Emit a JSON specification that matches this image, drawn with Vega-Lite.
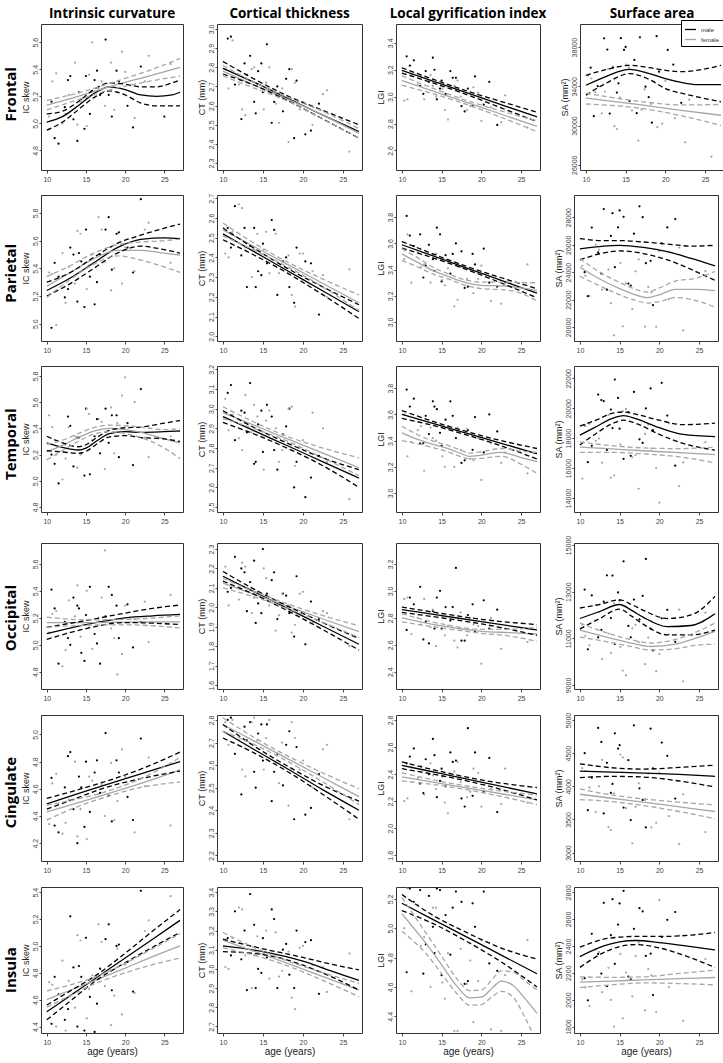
{
"$schema":"https://vega.github.io/schema/vega-lite/v6.json",
"background":"white",
"padding":{"left":3,"top":6,"right":1,"bottom":2},
"spacing":9,
"datasets":{
"F1p":[{"g":"m","x":10.6,"v":5.16},{"g":"m","x":11.5,"v":4.85},{"g":"m","x":12.3,"v":5.12},{"g":"m","x":13,"v":5.35},{"g":"m","x":13.4,"v":5.03},{"g":"m","x":13.9,"v":4.87},{"g":"m","x":14.4,"v":5.18},{"g":"m","x":15,"v":5.35},{"g":"m","x":15.5,"v":5.07},{"g":"m","x":16.1,"v":5.32},{"g":"m","x":16.8,"v":5.21},{"g":"m","x":17.5,"v":5.62},{"g":"m","x":18.3,"v":5.05},{"g":"m","x":19.2,"v":5.31},{"g":"m","x":20.3,"v":5.13},{"g":"m","x":22,"v":5.42},{"g":"m","x":25,"v":5.05},{"g":"f","x":10.3,"v":5.05},{"g":"f","x":11.2,"v":5.37},{"g":"f","x":12,"v":5.0},{"g":"f","x":12.8,"v":5.21},{"g":"f","x":13.6,"v":5.45},{"g":"f","x":14.3,"v":5.16},{"g":"f","x":15.1,"v":4.98},{"g":"f","x":15.8,"v":5.6},{"g":"f","x":16.6,"v":5.26},{"g":"f","x":17.4,"v":5.13},{"g":"f","x":18.2,"v":5.45},{"g":"f","x":19,"v":5.23},{"g":"f","x":20,"v":5.38},{"g":"f","x":21.2,"v":5.04},{"g":"f","x":23,"v":5.5},{"g":"f","x":25.8,"v":5.44},{"g":"m","x":11,"v":4.89},{"g":"m","x":12.7,"v":5.32},{"g":"m","x":14.1,"v":5.23},{"g":"m","x":14.8,"v":4.96},{"g":"m","x":16.4,"v":5.39},{"g":"m","x":17.9,"v":5.21},{"g":"m","x":18.9,"v":5.39},{"g":"m","x":21,"v":4.97},{"g":"f","x":10.7,"v":5.31},{"g":"f","x":12.4,"v":5.07},{"g":"f","x":13.9,"v":4.99},{"g":"f","x":15.4,"v":5.36},{"g":"f","x":17,"v":5.31},{"g":"f","x":18.6,"v":5.1},{"g":"f","x":19.6,"v":5.53},{"g":"f","x":22.5,"v":5.31}],
"F1f":[{"g":"m","x":10,"f":5.01,"l":4.95,"u":5.07},{"g":"m","x":12,"f":5.05,"l":5.01,"u":5.09},{"g":"m","x":14,"f":5.13,"l":5.1,"u":5.16},{"g":"m","x":16,"f":5.22,"l":5.19,"u":5.25},{"g":"m","x":18,"f":5.27,"l":5.24,"u":5.3},{"g":"m","x":20,"f":5.25,"l":5.21,"u":5.29},{"g":"m","x":22,"f":5.21,"l":5.15,"u":5.27},{"g":"m","x":24,"f":5.2,"l":5.13,"u":5.27},{"g":"m","x":26,"f":5.21,"l":5.13,"u":5.3},{"g":"m","x":27,"f":5.23,"l":5.13,"u":5.32},{"g":"f","x":10,"f":5.135,"l":5.1,"u":5.17},{"g":"f","x":14,"f":5.2,"l":5.175,"u":5.225},{"g":"f","x":18.5,"f":5.28,"l":5.255,"u":5.305},{"g":"f","x":23,"f":5.35,"l":5.31,"u":5.39},{"g":"f","x":27,"f":5.415,"l":5.35,"u":5.48}],
"F2p":[{"g":"m","x":10.6,"v":2.95},{"g":"m","x":11.5,"v":2.71},{"g":"m","x":12.3,"v":2.53},{"g":"m","x":13,"v":2.76},{"g":"m","x":13.4,"v":2.86},{"g":"m","x":13.9,"v":2.62},{"g":"m","x":14.4,"v":2.78},{"g":"m","x":15,"v":2.67},{"g":"m","x":15.5,"v":2.92},{"g":"m","x":16.1,"v":2.51},{"g":"m","x":16.8,"v":2.7},{"g":"m","x":17.5,"v":2.57},{"g":"m","x":18.3,"v":2.79},{"g":"m","x":19.2,"v":2.73},{"g":"m","x":20.3,"v":2.45},{"g":"m","x":22,"v":2.61},{"g":"f","x":10.3,"v":2.79},{"g":"f","x":11.2,"v":2.94},{"g":"f","x":12,"v":2.71},{"g":"f","x":12.8,"v":2.55},{"g":"f","x":13.6,"v":2.79},{"g":"f","x":14.3,"v":2.71},{"g":"f","x":15.1,"v":2.58},{"g":"f","x":15.8,"v":2.8},{"g":"f","x":16.6,"v":2.61},{"g":"f","x":17.4,"v":2.69},{"g":"f","x":18.2,"v":2.41},{"g":"f","x":19,"v":2.72},{"g":"f","x":20,"v":2.62},{"g":"f","x":21.2,"v":2.5},{"g":"f","x":23,"v":2.68},{"g":"f","x":25.8,"v":2.36},{"g":"m","x":11,"v":2.96},{"g":"m","x":12.7,"v":2.82},{"g":"m","x":14.1,"v":2.56},{"g":"m","x":14.8,"v":2.82},{"g":"m","x":16.4,"v":2.62},{"g":"m","x":17.9,"v":2.74},{"g":"m","x":18.9,"v":2.43},{"g":"m","x":21,"v":2.47},{"g":"f","x":10.7,"v":2.69},{"g":"f","x":12.4,"v":2.58},{"g":"f","x":13.9,"v":2.8},{"g":"f","x":15.4,"v":2.72},{"g":"f","x":17,"v":2.51},{"g":"f","x":18.6,"v":2.79},{"g":"f","x":19.6,"v":2.58},{"g":"f","x":22.5,"v":2.66}],
"F2f":[{"g":"m","x":10,"f":2.795,"l":2.765,"u":2.83},{"g":"m","x":14,"f":2.72,"l":2.705,"u":2.737},{"g":"m","x":18,"f":2.64,"l":2.628,"u":2.652},{"g":"m","x":22.5,"f":2.55,"l":2.53,"u":2.575},{"g":"m","x":27,"f":2.465,"l":2.43,"u":2.5},{"g":"f","x":10,"f":2.78,"l":2.755,"u":2.81},{"g":"f","x":14,"f":2.705,"l":2.69,"u":2.72},{"g":"f","x":18,"f":2.635,"l":2.625,"u":2.645},{"g":"f","x":22.5,"f":2.55,"l":2.53,"u":2.57},{"g":"f","x":27,"f":2.455,"l":2.43,"u":2.48}],
"F3p":[{"g":"m","x":10.6,"v":3.3},{"g":"m","x":11.5,"v":3.27},{"g":"m","x":12.3,"v":3.08},{"g":"m","x":13,"v":3.19},{"g":"m","x":13.4,"v":3.11},{"g":"m","x":13.9,"v":3.29},{"g":"m","x":14.4,"v":2.98},{"g":"m","x":15,"v":3.12},{"g":"m","x":15.5,"v":3.02},{"g":"m","x":16.1,"v":3.19},{"g":"m","x":16.8,"v":3.14},{"g":"m","x":17.5,"v":2.93},{"g":"m","x":18.3,"v":3.06},{"g":"m","x":19.2,"v":3.15},{"g":"m","x":20.3,"v":2.94},{"g":"m","x":22,"v":2.79},{"g":"f","x":10.3,"v":2.97},{"g":"f","x":11.2,"v":3.16},{"g":"f","x":12,"v":3.09},{"g":"f","x":12.8,"v":2.98},{"g":"f","x":13.6,"v":3.16},{"g":"f","x":14.3,"v":3.0},{"g":"f","x":15.1,"v":3.06},{"g":"f","x":15.8,"v":2.83},{"g":"f","x":16.6,"v":3.08},{"g":"f","x":17.4,"v":3.0},{"g":"f","x":18.2,"v":2.9},{"g":"f","x":19,"v":3.07},{"g":"f","x":20,"v":2.82},{"g":"f","x":21.2,"v":2.92},{"g":"f","x":23,"v":3.01},{"g":"f","x":25.8,"v":2.77},{"g":"m","x":11,"v":3.23},{"g":"m","x":12.7,"v":3.02},{"g":"m","x":14.1,"v":3.2},{"g":"m","x":14.8,"v":3.06},{"g":"m","x":16.4,"v":3.14},{"g":"m","x":17.9,"v":2.89},{"g":"m","x":18.9,"v":2.93},{"g":"m","x":21,"v":3.11},{"g":"f","x":10.7,"v":2.98},{"g":"f","x":12.4,"v":3.15},{"g":"f","x":13.9,"v":3.08},{"g":"f","x":15.4,"v":2.9},{"g":"f","x":17,"v":3.12},{"g":"f","x":18.6,"v":2.93},{"g":"f","x":19.6,"v":3.03},{"g":"f","x":22.5,"v":2.81}],
"F3f":[{"g":"m","x":10,"f":3.196,"l":3.175,"u":3.215},{"g":"m","x":14,"f":3.114,"l":3.1,"u":3.128},{"g":"m","x":18.5,"f":3.022,"l":3.008,"u":3.036},{"g":"m","x":23,"f":2.93,"l":2.905,"u":2.955},{"g":"m","x":27,"f":2.85,"l":2.815,"u":2.885},{"g":"f","x":10,"f":3.12,"l":3.085,"u":3.155},{"g":"f","x":14,"f":3.04,"l":3.02,"u":3.06},{"g":"f","x":18.5,"f":2.95,"l":2.935,"u":2.965},{"g":"f","x":23,"f":2.86,"l":2.835,"u":2.885},{"g":"f","x":27,"f":2.78,"l":2.74,"u":2.82}],
"F4p":[{"g":"m","x":10.6,"v":35910},{"g":"m","x":11.5,"v":34020},{"g":"m","x":12.3,"v":38900},{"g":"m","x":13,"v":31220},{"g":"m","x":13.4,"v":35930},{"g":"m","x":13.9,"v":33370},{"g":"m","x":14.4,"v":38920},{"g":"m","x":15,"v":38020},{"g":"m","x":15.5,"v":32500},{"g":"m","x":16.1,"v":36690},{"g":"m","x":16.8,"v":39000},{"g":"m","x":17.5,"v":33960},{"g":"m","x":18.3,"v":30290},{"g":"m","x":19.2,"v":35500},{"g":"m","x":20.3,"v":37720},{"g":"m","x":22,"v":32320},{"g":"f","x":10.3,"v":35100},{"g":"f","x":11.2,"v":33400},{"g":"f","x":12,"v":31240},{"g":"f","x":12.8,"v":35760},{"g":"f","x":13.6,"v":29930},{"g":"f","x":14.3,"v":32850},{"g":"f","x":15.1,"v":36210},{"g":"f","x":15.8,"v":31540},{"g":"f","x":16.6,"v":28470},{"g":"f","x":17.4,"v":33680},{"g":"f","x":18.2,"v":32210},{"g":"f","x":19,"v":29830},{"g":"f","x":20,"v":34560},{"g":"f","x":21.2,"v":30750},{"g":"f","x":23,"v":32640},{"g":"f","x":25.8,"v":26830},{"g":"m","x":11,"v":30960},{"g":"m","x":12.7,"v":37750},{"g":"m","x":14.1,"v":34310},{"g":"m","x":14.8,"v":37720},{"g":"m","x":16.4,"v":31260},{"g":"m","x":17.9,"v":32890},{"g":"m","x":18.9,"v":39120},{"g":"m","x":21,"v":36220},{"g":"f","x":10.7,"v":34800},{"g":"f","x":12.4,"v":33470},{"g":"f","x":13.9,"v":29640},{"g":"f","x":15.4,"v":35920},{"g":"f","x":17,"v":31615},{"g":"f","x":18.6,"v":34440},{"g":"f","x":19.6,"v":30195},{"g":"f","x":22.5,"v":28290}],
"F4f":[{"g":"m","x":10,"f":34114,"l":33100,"u":35128},{"g":"m","x":12.5,"f":35000,"l":34300,"u":35700},{"g":"m","x":15.5,"f":35736,"l":35300,"u":36142},{"g":"m","x":18,"f":35300,"l":34700,"u":35900},{"g":"m","x":20,"f":34790,"l":33776,"u":35635},{"g":"m","x":22,"f":34400,"l":33300,"u":35500},{"g":"m","x":24,"f":34180,"l":32930,"u":35635},{"g":"m","x":27,"f":34180,"l":32423,"u":36142},{"g":"f","x":10,"f":32800,"l":32200,"u":33300},{"g":"f","x":17,"f":32100,"l":31750,"u":32450},{"g":"f","x":22,"f":31550,"l":31000,"u":32100},{"g":"f","x":27,"f":31050,"l":30000,"u":32150}],
"P1p":[{"g":"m","x":10.6,"v":4.97},{"g":"m","x":11.5,"v":5.34},{"g":"m","x":12.3,"v":5.19},{"g":"m","x":13,"v":5.55},{"g":"m","x":13.4,"v":5.5},{"g":"m","x":13.9,"v":5.16},{"g":"m","x":14.4,"v":5.45},{"g":"m","x":15,"v":5.68},{"g":"m","x":15.5,"v":5.34},{"g":"m","x":16.1,"v":5.14},{"g":"m","x":16.8,"v":5.5},{"g":"m","x":17.5,"v":5.68},{"g":"m","x":18.3,"v":5.39},{"g":"m","x":19.2,"v":5.66},{"g":"m","x":20.3,"v":5.55},{"g":"m","x":22,"v":5.9},{"g":"f","x":10.3,"v":5.37},{"g":"f","x":11.2,"v":4.99},{"g":"f","x":12,"v":5.51},{"g":"f","x":12.8,"v":5.41},{"g":"f","x":13.6,"v":5.29},{"g":"f","x":14.3,"v":5.65},{"g":"f","x":15.1,"v":5.25},{"g":"f","x":15.8,"v":5.5},{"g":"f","x":16.6,"v":5.77},{"g":"f","x":17.4,"v":5.45},{"g":"f","x":18.2,"v":5.24},{"g":"f","x":19,"v":5.65},{"g":"f","x":20,"v":5.55},{"g":"f","x":21.2,"v":5.38},{"g":"f","x":23,"v":5.73},{"g":"f","x":25.8,"v":5.44},{"g":"m","x":11,"v":5.44},{"g":"m","x":12.7,"v":5.25},{"g":"m","x":14.1,"v":5.51},{"g":"m","x":14.8,"v":5.12},{"g":"m","x":16.4,"v":5.3},{"g":"m","x":17.9,"v":5.77},{"g":"m","x":18.9,"v":5.65},{"g":"m","x":21,"v":5.37},{"g":"f","x":10.7,"v":5.36},{"g":"f","x":12.4,"v":5.15},{"g":"f","x":13.9,"v":5.67},{"g":"f","x":15.4,"v":5.42},{"g":"f","x":17,"v":5.68},{"g":"f","x":18.6,"v":5.4},{"g":"f","x":19.6,"v":5.29},{"g":"f","x":22.5,"v":5.68}],
"P1f":[{"g":"m","x":10,"f":5.24,"l":5.2,"u":5.3},{"g":"m","x":13,"f":5.33,"l":5.29,"u":5.37},{"g":"m","x":16,"f":5.44,"l":5.4,"u":5.48},{"g":"m","x":19,"f":5.55,"l":5.51,"u":5.58},{"g":"m","x":22,"f":5.61,"l":5.56,"u":5.64},{"g":"m","x":25,"f":5.62,"l":5.535,"u":5.69},{"g":"m","x":27,"f":5.615,"l":5.51,"u":5.72},{"g":"f","x":10,"f":5.27,"l":5.19,"u":5.34},{"g":"f","x":13,"f":5.37,"l":5.32,"u":5.42},{"g":"f","x":16,"f":5.47,"l":5.43,"u":5.51},{"g":"f","x":19,"f":5.53,"l":5.49,"u":5.57},{"g":"f","x":22,"f":5.53,"l":5.46,"u":5.59},{"g":"f","x":25,"f":5.51,"l":5.41,"u":5.6},{"g":"f","x":27,"f":5.495,"l":5.37,"u":5.61}],
"P2p":[{"g":"m","x":10.6,"v":2.55},{"g":"m","x":11.5,"v":2.66},{"g":"m","x":12.3,"v":2.41},{"g":"m","x":13,"v":2.25},{"g":"m","x":13.4,"v":2.46},{"g":"m","x":13.9,"v":2.55},{"g":"m","x":14.4,"v":2.33},{"g":"m","x":15,"v":2.47},{"g":"m","x":15.5,"v":2.37},{"g":"m","x":16.1,"v":2.59},{"g":"m","x":16.8,"v":2.21},{"g":"m","x":17.5,"v":2.38},{"g":"m","x":18.3,"v":2.25},{"g":"m","x":19.2,"v":2.45},{"g":"m","x":20.3,"v":2.38},{"g":"m","x":22,"v":2.11},{"g":"f","x":10.3,"v":2.42},{"g":"f","x":11.2,"v":2.53},{"g":"f","x":12,"v":2.67},{"g":"f","x":12.8,"v":2.45},{"g":"f","x":13.6,"v":2.3},{"g":"f","x":14.3,"v":2.52},{"g":"f","x":15.1,"v":2.44},{"g":"f","x":15.8,"v":2.32},{"g":"f","x":16.6,"v":2.52},{"g":"f","x":17.4,"v":2.34},{"g":"f","x":18.2,"v":2.41},{"g":"f","x":19,"v":2.15},{"g":"f","x":20,"v":2.42},{"g":"f","x":21.2,"v":2.33},{"g":"f","x":23,"v":2.2},{"g":"f","x":25.8,"v":2.34},{"g":"m","x":11,"v":2.45},{"g":"m","x":12.7,"v":2.55},{"g":"m","x":14.1,"v":2.25},{"g":"m","x":14.8,"v":2.31},{"g":"m","x":16.4,"v":2.54},{"g":"m","x":17.9,"v":2.4},{"g":"m","x":18.9,"v":2.17},{"g":"m","x":21,"v":2.37},{"g":"f","x":10.7,"v":2.4},{"g":"f","x":12.4,"v":2.65},{"g":"f","x":13.9,"v":2.44},{"g":"f","x":15.4,"v":2.53},{"g":"f","x":17,"v":2.32},{"g":"f","x":18.6,"v":2.21},{"g":"f","x":19.6,"v":2.42},{"g":"f","x":22.5,"v":2.31}],
"P2f":[{"g":"m","x":10,"f":2.52,"l":2.49,"u":2.55},{"g":"m","x":14,"f":2.427,"l":2.41,"u":2.444},{"g":"m","x":18,"f":2.334,"l":2.322,"u":2.346},{"g":"m","x":22.5,"f":2.23,"l":2.21,"u":2.25},{"g":"m","x":27,"f":2.125,"l":2.09,"u":2.16},{"g":"f","x":10,"f":2.54,"l":2.51,"u":2.575},{"g":"f","x":14,"f":2.453,"l":2.435,"u":2.47},{"g":"f","x":18,"f":2.366,"l":2.354,"u":2.378},{"g":"f","x":22.5,"f":2.268,"l":2.25,"u":2.29},{"g":"f","x":27,"f":2.17,"l":2.13,"u":2.21}],
"P3p":[{"g":"m","x":10.6,"v":3.81},{"g":"m","x":11.5,"v":3.58},{"g":"m","x":12.3,"v":3.67},{"g":"m","x":13,"v":3.43},{"g":"m","x":13.4,"v":3.59},{"g":"m","x":13.9,"v":3.48},{"g":"m","x":14.4,"v":3.72},{"g":"m","x":15,"v":3.31},{"g":"m","x":15.5,"v":3.51},{"g":"m","x":16.1,"v":3.37},{"g":"m","x":16.8,"v":3.6},{"g":"m","x":17.5,"v":3.54},{"g":"m","x":18.3,"v":3.27},{"g":"m","x":19.2,"v":3.44},{"g":"m","x":20.3,"v":3.56},{"g":"m","x":22,"v":3.27},{"g":"f","x":10.3,"v":3.48},{"g":"f","x":11.2,"v":3.3},{"g":"f","x":12,"v":3.53},{"g":"f","x":12.8,"v":3.44},{"g":"f","x":13.6,"v":3.3},{"g":"f","x":14.3,"v":3.52},{"g":"f","x":15.1,"v":3.32},{"g":"f","x":15.8,"v":3.41},{"g":"f","x":16.6,"v":3.12},{"g":"f","x":17.4,"v":3.42},{"g":"f","x":18.2,"v":3.33},{"g":"f","x":19,"v":3.22},{"g":"f","x":20,"v":3.43},{"g":"f","x":21.2,"v":3.16},{"g":"f","x":23,"v":3.3},{"g":"f","x":25.8,"v":3.44},{"g":"m","x":11,"v":3.66},{"g":"m","x":12.7,"v":3.34},{"g":"m","x":14.1,"v":3.39},{"g":"m","x":14.8,"v":3.67},{"g":"m","x":16.4,"v":3.52},{"g":"m","x":17.9,"v":3.26},{"g":"m","x":18.9,"v":3.52},{"g":"m","x":21,"v":3.3},{"g":"f","x":10.7,"v":3.67},{"g":"f","x":12.4,"v":3.42},{"g":"f","x":13.9,"v":3.51},{"g":"f","x":15.4,"v":3.28},{"g":"f","x":17,"v":3.17},{"g":"f","x":18.6,"v":3.4},{"g":"f","x":19.6,"v":3.33},{"g":"f","x":22.5,"v":3.14}],
"P3f":[{"g":"m","x":10,"f":3.59,"l":3.565,"u":3.615},{"g":"m","x":14,"f":3.503,"l":3.488,"u":3.518},{"g":"m","x":18,"f":3.416,"l":3.404,"u":3.428},{"g":"m","x":22.5,"f":3.318,"l":3.298,"u":3.338},{"g":"m","x":27,"f":3.22,"l":3.185,"u":3.255},{"g":"f","x":10,"f":3.52,"l":3.47,"u":3.56},{"g":"f","x":12,"f":3.455,"l":3.42,"u":3.49},{"g":"f","x":14,"f":3.39,"l":3.365,"u":3.415},{"g":"f","x":16,"f":3.345,"l":3.325,"u":3.365},{"g":"f","x":17.5,"f":3.31,"l":3.29,"u":3.33},{"g":"f","x":20,"f":3.28,"l":3.255,"u":3.305},{"g":"f","x":23,"f":3.275,"l":3.245,"u":3.305},{"g":"f","x":25,"f":3.26,"l":3.22,"u":3.3},{"g":"f","x":27,"f":3.24,"l":3.16,"u":3.3}],
"P4p":[{"g":"m","x":10.6,"v":24000},{"g":"m","x":11.5,"v":27250},{"g":"m","x":12.3,"v":25440},{"g":"m","x":13,"v":28600},{"g":"m","x":13.4,"v":22720},{"g":"m","x":13.9,"v":26640},{"g":"m","x":14.4,"v":24360},{"g":"m","x":15,"v":28500},{"g":"m","x":15.5,"v":28030},{"g":"m","x":16.1,"v":23165},{"g":"m","x":16.8,"v":26805},{"g":"m","x":17.5,"v":28800},{"g":"m","x":18.3,"v":24650},{"g":"m","x":19.2,"v":21600},{"g":"m","x":20.3,"v":26100},{"g":"m","x":22,"v":27870},{"g":"f","x":10.3,"v":24460},{"g":"f","x":11.2,"v":22270},{"g":"f","x":12,"v":26010},{"g":"f","x":12.8,"v":22720},{"g":"f","x":13.6,"v":24180},{"g":"f","x":14.3,"v":19400},{"g":"f","x":15.1,"v":24670},{"g":"f","x":15.8,"v":23180},{"g":"f","x":16.6,"v":21300},{"g":"f","x":17.4,"v":24930},{"g":"f","x":18.2,"v":20030},{"g":"f","x":19,"v":22520},{"g":"f","x":20,"v":25530},{"g":"f","x":21.2,"v":22030},{"g":"f","x":23,"v":19750},{"g":"f","x":25.8,"v":24080},{"g":"m","x":11,"v":22250},{"g":"m","x":12.7,"v":23900},{"g":"m","x":14.1,"v":28300},{"g":"m","x":14.8,"v":27265},{"g":"m","x":16.4,"v":23020},{"g":"m","x":17.9,"v":28005},{"g":"m","x":18.9,"v":24830},{"g":"m","x":21,"v":27260},{"g":"f","x":10.7,"v":23740},{"g":"f","x":12.4,"v":25625},{"g":"f","x":13.9,"v":21750},{"g":"f","x":15.4,"v":20050},{"g":"f","x":17,"v":24060},{"g":"f","x":18.6,"v":22925},{"g":"f","x":19.6,"v":20015},{"g":"f","x":22.5,"v":25790}],
"P4f":[{"g":"m","x":10,"f":25700,"l":24900,"u":26450},{"g":"m","x":13,"f":25900,"l":25400,"u":26300},{"g":"m","x":15,"f":25950,"l":25550,"u":26300},{"g":"m","x":18,"f":25800,"l":25350,"u":26200},{"g":"m","x":21,"f":25500,"l":24900,"u":26050},{"g":"m","x":24,"f":25000,"l":24200,"u":25900},{"g":"m","x":27,"f":24450,"l":23400,"u":25950},{"g":"f","x":10,"f":24360,"l":23700,"u":25000},{"g":"f","x":12.5,"f":23500,"l":23000,"u":24000},{"g":"f","x":15,"f":22800,"l":22350,"u":23250},{"g":"f","x":17,"f":22350,"l":21950,"u":22750},{"g":"f","x":18.5,"f":22150,"l":21750,"u":22550},{"g":"f","x":20,"f":22350,"l":21850,"u":22850},{"g":"f","x":22,"f":22750,"l":22150,"u":23350},{"g":"f","x":24.5,"f":22750,"l":21950,"u":23550},{"g":"f","x":27,"f":22650,"l":21450,"u":24050}],
"T1p":[{"g":"m","x":10.6,"v":5.2},{"g":"m","x":11.5,"v":4.98},{"g":"m","x":12.3,"v":5.28},{"g":"m","x":13,"v":5.42},{"g":"m","x":13.4,"v":5.11},{"g":"m","x":13.9,"v":5.33},{"g":"m","x":14.4,"v":5.21},{"g":"m","x":15,"v":5.55},{"g":"m","x":15.5,"v":5.05},{"g":"m","x":16.1,"v":5.34},{"g":"m","x":16.8,"v":5.21},{"g":"m","x":17.5,"v":5.55},{"g":"m","x":18.3,"v":5.5},{"g":"m","x":19.2,"v":5.18},{"g":"m","x":20.3,"v":5.44},{"g":"m","x":22,"v":5.7},{"g":"f","x":10.3,"v":5.5},{"g":"f","x":11.2,"v":5.2},{"g":"f","x":12,"v":5.01},{"g":"f","x":12.8,"v":5.41},{"g":"f","x":13.6,"v":5.34},{"g":"f","x":14.3,"v":5.2},{"g":"f","x":15.1,"v":5.55},{"g":"f","x":15.8,"v":5.31},{"g":"f","x":16.6,"v":5.47},{"g":"f","x":17.4,"v":5.09},{"g":"f","x":18.2,"v":5.56},{"g":"f","x":19,"v":5.44},{"g":"f","x":20,"v":5.79},{"g":"f","x":21.2,"v":5.6},{"g":"f","x":23,"v":5.18},{"g":"f","x":25.8,"v":5.34},{"g":"m","x":11,"v":5.13},{"g":"m","x":12.7,"v":5.49},{"g":"m","x":14.1,"v":5.33},{"g":"m","x":14.8,"v":5.04},{"g":"m","x":16.4,"v":5.47},{"g":"m","x":17.9,"v":5.29},{"g":"m","x":18.9,"v":5.5},{"g":"m","x":21,"v":5.12},{"g":"f","x":10.7,"v":5.41},{"g":"f","x":12.4,"v":5.17},{"g":"f","x":13.9,"v":5.1},{"g":"f","x":15.4,"v":5.51},{"g":"f","x":17,"v":5.45},{"g":"f","x":18.6,"v":5.21},{"g":"f","x":19.6,"v":5.65},{"g":"f","x":22.5,"v":5.33}],
"T1f":[{"g":"m","x":10,"f":5.29,"l":5.23,"u":5.34},{"g":"m","x":12,"f":5.255,"l":5.22,"u":5.29},{"g":"m","x":14,"f":5.235,"l":5.21,"u":5.26},{"g":"m","x":15,"f":5.25,"l":5.225,"u":5.275},{"g":"m","x":16.5,"f":5.31,"l":5.285,"u":5.335},{"g":"m","x":18,"f":5.36,"l":5.335,"u":5.385},{"g":"m","x":20,"f":5.375,"l":5.345,"u":5.405},{"g":"m","x":22,"f":5.37,"l":5.33,"u":5.41},{"g":"m","x":25,"f":5.375,"l":5.32,"u":5.44},{"g":"m","x":27,"f":5.38,"l":5.3,"u":5.46},{"g":"f","x":10,"f":5.22,"l":5.16,"u":5.28},{"g":"f","x":12,"f":5.27,"l":5.23,"u":5.31},{"g":"f","x":14,"f":5.33,"l":5.3,"u":5.36},{"g":"f","x":16,"f":5.38,"l":5.355,"u":5.405},{"g":"f","x":18,"f":5.4,"l":5.375,"u":5.425},{"g":"f","x":20,"f":5.39,"l":5.36,"u":5.42},{"g":"f","x":22,"f":5.37,"l":5.33,"u":5.41},{"g":"f","x":25,"f":5.32,"l":5.25,"u":5.39},{"g":"f","x":27,"f":5.29,"l":5.17,"u":5.4}],
"T2p":[{"g":"m","x":10.6,"v":3.08},{"g":"m","x":11.5,"v":2.84},{"g":"m","x":12.3,"v":2.99},{"g":"m","x":13,"v":2.88},{"g":"m","x":13.4,"v":3.13},{"g":"m","x":13.9,"v":2.72},{"g":"m","x":14.4,"v":2.92},{"g":"m","x":15,"v":2.78},{"g":"m","x":15.5,"v":3.02},{"g":"m","x":16.1,"v":2.96},{"g":"m","x":16.8,"v":2.69},{"g":"m","x":17.5,"v":2.87},{"g":"m","x":18.3,"v":3.0},{"g":"m","x":19.2,"v":2.73},{"g":"m","x":20.3,"v":2.55},{"g":"m","x":22,"v":2.76},{"g":"f","x":10.3,"v":3.05},{"g":"f","x":11.2,"v":2.97},{"g":"f","x":12,"v":2.85},{"g":"f","x":12.8,"v":3.07},{"g":"f","x":13.6,"v":2.88},{"g":"f","x":14.3,"v":2.96},{"g":"f","x":15.1,"v":2.69},{"g":"f","x":15.8,"v":2.99},{"g":"f","x":16.6,"v":2.9},{"g":"f","x":17.4,"v":2.79},{"g":"f","x":18.2,"v":3.0},{"g":"f","x":19,"v":2.71},{"g":"f","x":20,"v":2.84},{"g":"f","x":21.2,"v":2.98},{"g":"f","x":23,"v":2.73},{"g":"f","x":25.8,"v":2.54},{"g":"m","x":11,"v":3.12},{"g":"m","x":12.7,"v":2.98},{"g":"m","x":14.1,"v":2.73},{"g":"m","x":14.8,"v":2.99},{"g":"m","x":16.4,"v":2.79},{"g":"m","x":17.9,"v":2.91},{"g":"m","x":18.9,"v":2.6},{"g":"m","x":21,"v":2.65},{"g":"f","x":10.7,"v":2.89},{"g":"f","x":12.4,"v":2.79},{"g":"f","x":13.9,"v":3.02},{"g":"f","x":15.4,"v":2.94},{"g":"f","x":17,"v":2.73},{"g":"f","x":18.6,"v":3.01},{"g":"f","x":19.6,"v":2.8},{"g":"f","x":22.5,"v":2.9}],
"T2f":[{"g":"m","x":10,"f":2.96,"l":2.93,"u":2.99},{"g":"m","x":14,"f":2.886,"l":2.87,"u":2.902},{"g":"m","x":18,"f":2.813,"l":2.8,"u":2.826},{"g":"m","x":22.5,"f":2.73,"l":2.71,"u":2.75},{"g":"m","x":27,"f":2.647,"l":2.6,"u":2.69},{"g":"f","x":10,"f":2.98,"l":2.95,"u":3.01},{"g":"f","x":14,"f":2.914,"l":2.898,"u":2.93},{"g":"f","x":18,"f":2.848,"l":2.836,"u":2.86},{"g":"f","x":22.5,"f":2.774,"l":2.75,"u":2.8},{"g":"f","x":27,"f":2.7,"l":2.66,"u":2.75}],
"T3p":[{"g":"m","x":10.6,"v":3.79},{"g":"m","x":11.5,"v":3.72},{"g":"m","x":12.3,"v":3.38},{"g":"m","x":13,"v":3.59},{"g":"m","x":13.4,"v":3.45},{"g":"m","x":13.9,"v":3.7},{"g":"m","x":14.4,"v":3.64},{"g":"m","x":15,"v":3.36},{"g":"m","x":15.5,"v":3.56},{"g":"m","x":16.1,"v":3.7},{"g":"m","x":16.8,"v":3.42},{"g":"m","x":17.5,"v":3.23},{"g":"m","x":18.3,"v":3.48},{"g":"m","x":19.2,"v":3.58},{"g":"m","x":20.3,"v":3.31},{"g":"m","x":22,"v":3.47},{"g":"f","x":10.3,"v":3.6},{"g":"f","x":11.2,"v":3.39},{"g":"f","x":12,"v":3.48},{"g":"f","x":12.8,"v":3.17},{"g":"f","x":13.6,"v":3.5},{"g":"f","x":14.3,"v":3.4},{"g":"f","x":15.1,"v":3.28},{"g":"f","x":15.8,"v":3.51},{"g":"f","x":16.6,"v":3.2},{"g":"f","x":17.4,"v":3.33},{"g":"f","x":18.2,"v":3.49},{"g":"f","x":19,"v":3.25},{"g":"f","x":20,"v":3.1},{"g":"f","x":21.2,"v":3.38},{"g":"f","x":23,"v":3.31},{"g":"f","x":25.8,"v":3.15},{"g":"m","x":11,"v":3.66},{"g":"m","x":12.7,"v":3.38},{"g":"m","x":14.1,"v":3.66},{"g":"m","x":14.8,"v":3.46},{"g":"m","x":16.4,"v":3.59},{"g":"m","x":17.9,"v":3.25},{"g":"m","x":18.9,"v":3.33},{"g":"m","x":21,"v":3.6},{"g":"f","x":10.7,"v":3.28},{"g":"f","x":12.4,"v":3.51},{"g":"f","x":13.9,"v":3.42},{"g":"f","x":15.4,"v":3.2},{"g":"f","x":17,"v":3.5},{"g":"f","x":18.6,"v":3.26},{"g":"f","x":19.6,"v":3.42},{"g":"f","x":22.5,"v":3.23}],
"T3f":[{"g":"m","x":10,"f":3.6,"l":3.57,"u":3.63},{"g":"m","x":14,"f":3.53,"l":3.515,"u":3.545},{"g":"m","x":18,"f":3.459,"l":3.446,"u":3.472},{"g":"m","x":22.5,"f":3.38,"l":3.36,"u":3.4},{"g":"m","x":27,"f":3.3,"l":3.26,"u":3.34},{"g":"f","x":10,"f":3.46,"l":3.4,"u":3.51},{"g":"f","x":12,"f":3.41,"l":3.375,"u":3.445},{"g":"f","x":14,"f":3.37,"l":3.345,"u":3.395},{"g":"f","x":16,"f":3.335,"l":3.31,"u":3.36},{"g":"f","x":17.5,"f":3.3,"l":3.275,"u":3.325},{"g":"f","x":18.5,"f":3.28,"l":3.26,"u":3.305},{"g":"f","x":20,"f":3.29,"l":3.265,"u":3.315},{"g":"f","x":22.5,"f":3.31,"l":3.28,"u":3.34},{"g":"f","x":25,"f":3.27,"l":3.22,"u":3.32},{"g":"f","x":27,"f":3.24,"l":3.15,"u":3.31}],
"T4p":[{"g":"m","x":10.6,"v":18850},{"g":"m","x":11.5,"v":17490},{"g":"m","x":12.3,"v":20910},{"g":"m","x":13,"v":20470},{"g":"m","x":13.4,"v":17215},{"g":"m","x":13.9,"v":19910},{"g":"m","x":14.4,"v":21920},{"g":"m","x":15,"v":18635},{"g":"m","x":15.5,"v":16620},{"g":"m","x":16.1,"v":19740},{"g":"m","x":16.8,"v":21090},{"g":"m","x":17.5,"v":17920},{"g":"m","x":18.3,"v":19990},{"g":"m","x":19.2,"v":18540},{"g":"m","x":20.3,"v":21700},{"g":"m","x":22,"v":16160},{"g":"f","x":10.3,"v":15300},{"g":"f","x":11.2,"v":18965},{"g":"f","x":12,"v":17820},{"g":"f","x":12.8,"v":16360},{"g":"f","x":13.6,"v":19535},{"g":"f","x":14.3,"v":15515},{"g":"f","x":15.1,"v":17570},{"g":"f","x":15.8,"v":19950},{"g":"f","x":16.6,"v":16725},{"g":"f","x":17.4,"v":14620},{"g":"f","x":18.2,"v":18280},{"g":"f","x":19,"v":17295},{"g":"f","x":20,"v":13700},{"g":"f","x":21.2,"v":18990},{"g":"f","x":23,"v":16380},{"g":"f","x":25.8,"v":17735},{"g":"m","x":11,"v":16395},{"g":"m","x":12.7,"v":20545},{"g":"m","x":14.1,"v":18675},{"g":"m","x":14.8,"v":20690},{"g":"m","x":16.4,"v":16820},{"g":"m","x":17.9,"v":17680},{"g":"m","x":18.9,"v":21320},{"g":"m","x":21,"v":19510},{"g":"f","x":10.7,"v":18820},{"g":"f","x":12.4,"v":17970},{"g":"f","x":13.9,"v":15365},{"g":"f","x":15.4,"v":19800},{"g":"f","x":17,"v":16875},{"g":"f","x":18.6,"v":18910},{"g":"f","x":19.6,"v":16000},{"g":"f","x":22.5,"v":14790}],
"T4f":[{"g":"m","x":10,"f":18200,"l":17550,"u":18800},{"g":"m","x":12,"f":18750,"l":18300,"u":19200},{"g":"m","x":14,"f":19300,"l":18950,"u":19650},{"g":"m","x":15.5,"f":19500,"l":19200,"u":19750},{"g":"m","x":17,"f":19300,"l":19000,"u":19600},{"g":"m","x":20,"f":18700,"l":18250,"u":19200},{"g":"m","x":23,"f":18250,"l":17650,"u":18900},{"g":"m","x":27,"f":18100,"l":17200,"u":19000},{"g":"f","x":10,"f":17400,"l":17050,"u":17750},{"g":"f","x":14,"f":17280,"l":17050,"u":17500},{"g":"f","x":18,"f":17160,"l":16950,"u":17350},{"g":"f","x":22.5,"f":17030,"l":16750,"u":17300},{"g":"f","x":27,"f":16900,"l":16350,"u":17400}],
"O1p":[{"g":"m","x":10.6,"v":5.41},{"g":"m","x":11.5,"v":4.86},{"g":"m","x":12.3,"v":5.17},{"g":"m","x":13,"v":5.0},{"g":"m","x":13.4,"v":5.35},{"g":"m","x":13.9,"v":5.29},{"g":"m","x":14.4,"v":4.94},{"g":"m","x":15,"v":5.22},{"g":"m","x":15.5,"v":5.43},{"g":"m","x":16.1,"v":5.08},{"g":"m","x":16.8,"v":4.86},{"g":"m","x":17.5,"v":5.21},{"g":"m","x":18.3,"v":5.37},{"g":"m","x":19.2,"v":5.05},{"g":"m","x":20.3,"v":5.3},{"g":"m","x":22,"v":5.17},{"g":"f","x":10.3,"v":5.09},{"g":"f","x":11.2,"v":5.25},{"g":"f","x":12,"v":4.84},{"g":"f","x":12.8,"v":5.33},{"g":"f","x":13.6,"v":5.21},{"g":"f","x":14.3,"v":5.06},{"g":"f","x":15.1,"v":5.4},{"g":"f","x":15.8,"v":4.97},{"g":"f","x":16.6,"v":5.2},{"g":"f","x":17.4,"v":5.7},{"g":"f","x":18.2,"v":5.12},{"g":"f","x":19,"v":4.78},{"g":"f","x":20,"v":5.29},{"g":"f","x":21.2,"v":5.19},{"g":"f","x":23,"v":5.02},{"g":"f","x":25.8,"v":5.37},{"g":"m","x":11,"v":5.27},{"g":"m","x":12.7,"v":5.05},{"g":"m","x":14.1,"v":5.27},{"g":"m","x":14.8,"v":4.88},{"g":"m","x":16.4,"v":5.01},{"g":"m","x":17.9,"v":5.43},{"g":"m","x":18.9,"v":5.29},{"g":"m","x":21,"v":4.98},{"g":"f","x":10.7,"v":5.23},{"g":"f","x":12.4,"v":4.96},{"g":"f","x":13.9,"v":5.44},{"g":"f","x":15.4,"v":5.13},{"g":"f","x":17,"v":5.35},{"g":"f","x":18.6,"v":5.05},{"g":"f","x":19.6,"v":4.93},{"g":"f","x":22.5,"v":5.32}],
"O1f":[{"g":"m","x":10,"f":5.083,"l":5.04,"u":5.13},{"g":"m","x":15,"f":5.15,"l":5.12,"u":5.18},{"g":"m","x":20,"f":5.2,"l":5.165,"u":5.235},{"g":"m","x":23.5,"f":5.215,"l":5.16,"u":5.27},{"g":"m","x":27,"f":5.225,"l":5.15,"u":5.295},{"g":"f","x":10,"f":5.165,"l":5.13,"u":5.205},{"g":"f","x":15,"f":5.165,"l":5.145,"u":5.185},{"g":"f","x":20,"f":5.168,"l":5.148,"u":5.188},{"g":"f","x":27,"f":5.17,"l":5.125,"u":5.215}],
"O2p":[{"g":"m","x":10.6,"v":2.08},{"g":"m","x":11.5,"v":2.26},{"g":"m","x":12.3,"v":2.2},{"g":"m","x":13,"v":1.98},{"g":"m","x":13.4,"v":2.13},{"g":"m","x":13.9,"v":2.24},{"g":"m","x":14.4,"v":2.02},{"g":"m","x":15,"v":2.3},{"g":"m","x":15.5,"v":2.07},{"g":"m","x":16.1,"v":2.14},{"g":"m","x":16.8,"v":1.94},{"g":"m","x":17.5,"v":2.07},{"g":"m","x":18.3,"v":1.97},{"g":"m","x":19.2,"v":2.16},{"g":"m","x":20.3,"v":1.81},{"g":"m","x":22,"v":1.94},{"g":"f","x":10.3,"v":2.21},{"g":"f","x":11.2,"v":2.13},{"g":"f","x":12,"v":2.04},{"g":"f","x":12.8,"v":2.21},{"g":"f","x":13.6,"v":1.97},{"g":"f","x":14.3,"v":2.08},{"g":"f","x":15.1,"v":2.2},{"g":"f","x":15.8,"v":2.01},{"g":"f","x":16.6,"v":1.88},{"g":"f","x":17.4,"v":2.07},{"g":"f","x":18.2,"v":2.01},{"g":"f","x":19,"v":1.91},{"g":"f","x":20,"v":2.08},{"g":"f","x":21.2,"v":1.92},{"g":"f","x":23,"v":1.97},{"g":"f","x":25.8,"v":1.8},{"g":"m","x":11,"v":2.1},{"g":"m","x":12.7,"v":2.18},{"g":"m","x":14.1,"v":1.92},{"g":"m","x":14.8,"v":1.97},{"g":"m","x":16.4,"v":2.18},{"g":"m","x":17.9,"v":2.06},{"g":"m","x":18.9,"v":1.85},{"g":"m","x":21,"v":2.03},{"g":"f","x":10.7,"v":2.01},{"g":"f","x":12.4,"v":2.23},{"g":"f","x":13.9,"v":2.05},{"g":"f","x":15.4,"v":2.15},{"g":"f","x":17,"v":1.96},{"g":"f","x":18.6,"v":1.87},{"g":"f","x":19.6,"v":2.07},{"g":"f","x":22.5,"v":1.98}],
"O2f":[{"g":"m","x":10,"f":2.16,"l":2.135,"u":2.185},{"g":"m","x":14,"f":2.078,"l":2.065,"u":2.091},{"g":"m","x":18,"f":1.996,"l":1.984,"u":2.008},{"g":"m","x":22.5,"f":1.903,"l":1.885,"u":1.921},{"g":"m","x":27,"f":1.81,"l":1.78,"u":1.84},{"g":"f","x":10,"f":2.125,"l":2.1,"u":2.15},{"g":"f","x":14,"f":2.066,"l":2.053,"u":2.079},{"g":"f","x":18,"f":2.007,"l":1.995,"u":2.019},{"g":"f","x":22.5,"f":1.94,"l":1.922,"u":1.958},{"g":"f","x":27,"f":1.875,"l":1.845,"u":1.905}],
"O3p":[{"g":"m","x":10.6,"v":2.71},{"g":"m","x":11.5,"v":2.9},{"g":"m","x":12.3,"v":3.03},{"g":"m","x":13,"v":2.77},{"g":"m","x":13.4,"v":2.61},{"g":"m","x":13.9,"v":2.85},{"g":"m","x":14.4,"v":2.95},{"g":"m","x":15,"v":2.72},{"g":"m","x":15.5,"v":2.88},{"g":"m","x":16.1,"v":2.78},{"g":"m","x":16.8,"v":3.17},{"g":"m","x":17.5,"v":2.63},{"g":"m","x":18.3,"v":2.82},{"g":"m","x":19.2,"v":2.7},{"g":"m","x":20.3,"v":2.93},{"g":"m","x":22,"v":2.86},{"g":"f","x":10.3,"v":2.94},{"g":"f","x":11.2,"v":2.68},{"g":"f","x":12,"v":2.8},{"g":"f","x":12.8,"v":2.94},{"g":"f","x":13.6,"v":2.73},{"g":"f","x":14.3,"v":2.59},{"g":"f","x":15.1,"v":2.81},{"g":"f","x":15.8,"v":2.74},{"g":"f","x":16.6,"v":2.63},{"g":"f","x":17.4,"v":2.84},{"g":"f","x":18.2,"v":2.67},{"g":"f","x":19,"v":2.75},{"g":"f","x":20,"v":2.46},{"g":"f","x":21.2,"v":2.8},{"g":"f","x":23,"v":2.72},{"g":"f","x":25.8,"v":2.62},{"g":"m","x":11,"v":2.95},{"g":"m","x":12.7,"v":2.64},{"g":"m","x":14.1,"v":2.72},{"g":"m","x":14.8,"v":3.0},{"g":"m","x":16.4,"v":2.88},{"g":"m","x":17.9,"v":2.63},{"g":"m","x":18.9,"v":2.9},{"g":"m","x":21,"v":2.72},{"g":"f","x":10.7,"v":2.95},{"g":"f","x":12.4,"v":2.75},{"g":"f","x":13.9,"v":2.86},{"g":"f","x":15.4,"v":2.67},{"g":"f","x":17,"v":2.58},{"g":"f","x":18.6,"v":2.8},{"g":"f","x":19.6,"v":2.74},{"g":"f","x":22.5,"v":2.57}],
"O3f":[{"g":"m","x":10,"f":2.86,"l":2.84,"u":2.88},{"g":"m","x":15,"f":2.816,"l":2.8,"u":2.832},{"g":"m","x":20,"f":2.772,"l":2.755,"u":2.789},{"g":"m","x":27,"f":2.71,"l":2.67,"u":2.75},{"g":"f","x":10,"f":2.8,"l":2.77,"u":2.83},{"g":"f","x":15,"f":2.74,"l":2.725,"u":2.755},{"g":"f","x":20,"f":2.7,"l":2.685,"u":2.715},{"g":"f","x":23.5,"f":2.69,"l":2.665,"u":2.715},{"g":"f","x":27,"f":2.68,"l":2.625,"u":2.73}],
"O4p":[{"g":"m","x":10.6,"v":13090},{"g":"m","x":11.5,"v":12840},{"g":"m","x":12.3,"v":11045},{"g":"m","x":13,"v":12570},{"g":"m","x":13.4,"v":13700},{"g":"m","x":13.9,"v":11870},{"g":"m","x":14.4,"v":10760},{"g":"m","x":15,"v":12630},{"g":"m","x":15.5,"v":14300},{"g":"m","x":16.1,"v":11530},{"g":"m","x":16.8,"v":12660},{"g":"m","x":17.5,"v":11810},{"g":"m","x":18.3,"v":14400},{"g":"m","x":19.2,"v":10480},{"g":"m","x":20.3,"v":11860},{"g":"m","x":22,"v":10850},{"g":"f","x":10.3,"v":11590},{"g":"f","x":11.2,"v":10700},{"g":"f","x":12,"v":12430},{"g":"f","x":12.8,"v":10110},{"g":"f","x":13.6,"v":11205},{"g":"f","x":14.3,"v":12495},{"g":"f","x":15.1,"v":10625},{"g":"f","x":15.8,"v":9410},{"g":"f","x":16.6,"v":11430},{"g":"f","x":17.4,"v":10840},{"g":"f","x":18.2,"v":9890},{"g":"f","x":19,"v":11730},{"g":"f","x":20,"v":10325},{"g":"f","x":21.2,"v":11170},{"g":"f","x":23,"v":9160},{"g":"f","x":25.8,"v":12100},{"g":"m","x":11,"v":10530},{"g":"m","x":12.7,"v":11365},{"g":"m","x":14.1,"v":13690},{"g":"m","x":14.8,"v":12965},{"g":"m","x":16.4,"v":11045},{"g":"m","x":17.9,"v":12820},{"g":"m","x":18.9,"v":11420},{"g":"m","x":21,"v":12220},{"g":"f","x":10.7,"v":11110},{"g":"f","x":12.4,"v":12125},{"g":"f","x":13.9,"v":10375},{"g":"f","x":15.4,"v":9620},{"g":"f","x":17,"v":11580},{"g":"f","x":18.6,"v":11035},{"g":"f","x":19.6,"v":9590},{"g":"f","x":22.5,"v":12230}],
"O4f":[{"g":"m","x":10,"f":11850,"l":11400,"u":12300},{"g":"m","x":12.5,"f":12150,"l":11850,"u":12450},{"g":"m","x":15,"f":12450,"l":12250,"u":12650},{"g":"m","x":16.5,"f":12200,"l":11950,"u":12450},{"g":"m","x":18,"f":11900,"l":11600,"u":12200},{"g":"m","x":21,"f":11500,"l":11150,"u":11850},{"g":"m","x":24,"f":11550,"l":11150,"u":12000},{"g":"m","x":27,"f":12050,"l":11350,"u":12800},{"g":"f","x":10,"f":11350,"l":11050,"u":11650},{"g":"f","x":13,"f":11080,"l":10880,"u":11280},{"g":"f","x":16,"f":10830,"l":10680,"u":10980},{"g":"f","x":19,"f":10650,"l":10500,"u":10800},{"g":"f","x":22,"f":10750,"l":10550,"u":10950},{"g":"f","x":24.5,"f":11000,"l":10700,"u":11250},{"g":"f","x":27,"f":11300,"l":10750,"u":11650}],
"C1p":[{"g":"m","x":10.6,"v":4.68},{"g":"m","x":11.5,"v":4.28},{"g":"m","x":12.3,"v":4.61},{"g":"m","x":13,"v":4.87},{"g":"m","x":13.4,"v":4.45},{"g":"m","x":13.9,"v":4.2},{"g":"m","x":14.4,"v":4.61},{"g":"m","x":15,"v":4.8},{"g":"m","x":15.5,"v":4.43},{"g":"m","x":16.1,"v":4.72},{"g":"m","x":16.8,"v":4.57},{"g":"m","x":17.5,"v":5.01},{"g":"m","x":18.3,"v":4.36},{"g":"m","x":19.2,"v":4.72},{"g":"m","x":20.3,"v":4.54},{"g":"m","x":22,"v":4.97},{"g":"f","x":10.3,"v":4.34},{"g":"f","x":11.2,"v":4.71},{"g":"f","x":12,"v":4.27},{"g":"f","x":12.8,"v":4.52},{"g":"f","x":13.6,"v":4.8},{"g":"f","x":14.3,"v":4.45},{"g":"f","x":15.1,"v":4.23},{"g":"f","x":15.8,"v":4.66},{"g":"f","x":16.6,"v":4.56},{"g":"f","x":17.4,"v":4.4},{"g":"f","x":18.2,"v":4.79},{"g":"f","x":19,"v":4.51},{"g":"f","x":20,"v":4.69},{"g":"f","x":21.2,"v":4.28},{"g":"f","x":23,"v":4.83},{"g":"f","x":25.8,"v":4.33},{"g":"m","x":11,"v":4.33},{"g":"m","x":12.7,"v":4.84},{"g":"m","x":14.1,"v":4.69},{"g":"m","x":14.8,"v":4.32},{"g":"m","x":16.4,"v":4.81},{"g":"m","x":17.9,"v":4.55},{"g":"m","x":18.9,"v":4.81},{"g":"m","x":21,"v":4.37},{"g":"f","x":10.7,"v":4.64},{"g":"f","x":12.4,"v":4.35},{"g":"f","x":13.9,"v":4.25},{"g":"f","x":15.4,"v":4.69},{"g":"f","x":17,"v":4.63},{"g":"f","x":18.6,"v":4.37},{"g":"f","x":19.6,"v":4.89},{"g":"f","x":22.5,"v":4.62}],
"C1f":[{"g":"m","x":10,"f":4.49,"l":4.45,"u":4.53},{"g":"m","x":13.5,"f":4.555,"l":4.525,"u":4.585},{"g":"m","x":17,"f":4.62,"l":4.6,"u":4.645},{"g":"m","x":22,"f":4.71,"l":4.675,"u":4.745},{"g":"m","x":27,"f":4.8,"l":4.73,"u":4.87},{"g":"f","x":10,"f":4.43,"l":4.37,"u":4.48},{"g":"f","x":13.5,"f":4.49,"l":4.46,"u":4.52},{"g":"f","x":17,"f":4.55,"l":4.53,"u":4.57},{"g":"f","x":22,"f":4.64,"l":4.61,"u":4.675},{"g":"f","x":27,"f":4.74,"l":4.65,"u":4.83}],
"C2p":[{"g":"m","x":10.6,"v":2.8},{"g":"m","x":11.5,"v":2.65},{"g":"m","x":12.3,"v":2.47},{"g":"m","x":13,"v":2.71},{"g":"m","x":13.4,"v":2.79},{"g":"m","x":13.9,"v":2.57},{"g":"m","x":14.4,"v":2.74},{"g":"m","x":15,"v":2.62},{"g":"m","x":15.5,"v":2.78},{"g":"m","x":16.1,"v":2.44},{"g":"m","x":16.8,"v":2.65},{"g":"m","x":17.5,"v":2.51},{"g":"m","x":18.3,"v":2.75},{"g":"m","x":19.2,"v":2.68},{"g":"m","x":20.3,"v":2.38},{"g":"m","x":22,"v":2.56},{"g":"f","x":10.3,"v":2.79},{"g":"f","x":11.2,"v":2.8},{"g":"f","x":12,"v":2.71},{"g":"f","x":12.8,"v":2.55},{"g":"f","x":13.6,"v":2.79},{"g":"f","x":14.3,"v":2.71},{"g":"f","x":15.1,"v":2.58},{"g":"f","x":15.8,"v":2.8},{"g":"f","x":16.6,"v":2.61},{"g":"f","x":17.4,"v":2.7},{"g":"f","x":18.2,"v":2.42},{"g":"f","x":19,"v":2.72},{"g":"f","x":20,"v":2.62},{"g":"f","x":21.2,"v":2.5},{"g":"f","x":23,"v":2.69},{"g":"f","x":25.8,"v":2.36},{"g":"m","x":11,"v":2.81},{"g":"m","x":12.7,"v":2.77},{"g":"m","x":14.1,"v":2.5},{"g":"m","x":14.8,"v":2.78},{"g":"m","x":16.4,"v":2.57},{"g":"m","x":17.9,"v":2.69},{"g":"m","x":18.9,"v":2.36},{"g":"m","x":21,"v":2.41},{"g":"f","x":10.7,"v":2.69},{"g":"f","x":12.4,"v":2.58},{"g":"f","x":13.9,"v":2.81},{"g":"f","x":15.4,"v":2.72},{"g":"f","x":17,"v":2.52},{"g":"f","x":18.6,"v":2.79},{"g":"f","x":19.6,"v":2.58},{"g":"f","x":22.5,"v":2.67}],
"C2f":[{"g":"m","x":10,"f":2.75,"l":2.72,"u":2.78},{"g":"m","x":14,"f":2.667,"l":2.652,"u":2.682},{"g":"m","x":18,"f":2.585,"l":2.573,"u":2.597},{"g":"m","x":22.5,"f":2.49,"l":2.47,"u":2.51},{"g":"m","x":27,"f":2.4,"l":2.36,"u":2.44},{"g":"f","x":10,"f":2.78,"l":2.75,"u":2.81},{"g":"f","x":14,"f":2.705,"l":2.69,"u":2.72},{"g":"f","x":18,"f":2.63,"l":2.618,"u":2.642},{"g":"f","x":22.5,"f":2.545,"l":2.525,"u":2.565},{"g":"f","x":27,"f":2.46,"l":2.425,"u":2.495}],
"C3p":[{"g":"m","x":10.6,"v":2.48},{"g":"m","x":11.5,"v":2.59},{"g":"m","x":12.3,"v":2.33},{"g":"m","x":13,"v":2.51},{"g":"m","x":13.4,"v":2.4},{"g":"m","x":13.9,"v":2.66},{"g":"m","x":14.4,"v":2.23},{"g":"m","x":15,"v":2.44},{"g":"m","x":15.5,"v":2.31},{"g":"m","x":16.1,"v":2.56},{"g":"m","x":16.8,"v":2.5},{"g":"m","x":17.5,"v":2.22},{"g":"m","x":18.3,"v":2.74},{"g":"m","x":19.2,"v":2.56},{"g":"m","x":20.3,"v":2.27},{"g":"m","x":22,"v":2.12},{"g":"f","x":10.3,"v":2.2},{"g":"f","x":11.2,"v":2.45},{"g":"f","x":12,"v":2.37},{"g":"f","x":12.8,"v":2.25},{"g":"f","x":13.6,"v":2.48},{"g":"f","x":14.3,"v":2.29},{"g":"f","x":15.1,"v":2.38},{"g":"f","x":15.8,"v":2.11},{"g":"f","x":16.6,"v":2.42},{"g":"f","x":17.4,"v":2.34},{"g":"f","x":18.2,"v":2.23},{"g":"f","x":19,"v":2.44},{"g":"f","x":20,"v":2.16},{"g":"f","x":21.2,"v":2.29},{"g":"f","x":23,"v":2.44},{"g":"f","x":25.8,"v":2.19},{"g":"m","x":11,"v":2.53},{"g":"m","x":12.7,"v":2.26},{"g":"m","x":14.1,"v":2.54},{"g":"m","x":14.8,"v":2.35},{"g":"m","x":16.4,"v":2.49},{"g":"m","x":17.9,"v":2.16},{"g":"m","x":18.9,"v":2.24},{"g":"m","x":21,"v":2.52},{"g":"f","x":10.7,"v":2.22},{"g":"f","x":12.4,"v":2.46},{"g":"f","x":13.9,"v":2.39},{"g":"f","x":15.4,"v":2.19},{"g":"f","x":17,"v":2.49},{"g":"f","x":18.6,"v":2.27},{"g":"f","x":19.6,"v":2.41},{"g":"f","x":22.5,"v":2.18}],
"C3f":[{"g":"m","x":10,"f":2.465,"l":2.44,"u":2.49},{"g":"m","x":15,"f":2.403,"l":2.388,"u":2.418},{"g":"m","x":20,"f":2.341,"l":2.325,"u":2.357},{"g":"m","x":27,"f":2.254,"l":2.21,"u":2.3},{"g":"f","x":10,"f":2.38,"l":2.35,"u":2.41},{"g":"f","x":15,"f":2.33,"l":2.315,"u":2.345},{"g":"f","x":20,"f":2.28,"l":2.265,"u":2.295},{"g":"f","x":27,"f":2.21,"l":2.175,"u":2.245}],
"C4p":[{"g":"m","x":10.6,"v":4500},{"g":"m","x":11.5,"v":4130},{"g":"m","x":12.3,"v":4880},{"g":"m","x":13,"v":3590},{"g":"m","x":13.4,"v":4355},{"g":"m","x":13.9,"v":3900},{"g":"m","x":14.4,"v":4800},{"g":"m","x":15,"v":4620},{"g":"m","x":15.5,"v":3680},{"g":"m","x":16.1,"v":4395},{"g":"m","x":16.8,"v":4920},{"g":"m","x":17.5,"v":3970},{"g":"m","x":18.3,"v":3380},{"g":"m","x":19.2,"v":4270},{"g":"m","x":20.3,"v":4660},{"g":"m","x":22,"v":3815},{"g":"f","x":10.3,"v":4275},{"g":"f","x":11.2,"v":3980},{"g":"f","x":12,"v":3610},{"g":"f","x":12.8,"v":4400},{"g":"f","x":13.6,"v":3385},{"g":"f","x":14.3,"v":3895},{"g":"f","x":15.1,"v":4480},{"g":"f","x":15.8,"v":3670},{"g":"f","x":16.6,"v":3140},{"g":"f","x":17.4,"v":4045},{"g":"f","x":18.2,"v":3795},{"g":"f","x":19,"v":3380},{"g":"f","x":20,"v":4205},{"g":"f","x":21.2,"v":3550},{"g":"f","x":23,"v":3880},{"g":"f","x":25.8,"v":3310},{"g":"m","x":11,"v":3640},{"g":"m","x":12.7,"v":4670},{"g":"m","x":14.1,"v":4035},{"g":"m","x":14.8,"v":4570},{"g":"m","x":16.4,"v":3490},{"g":"m","x":17.9,"v":3795},{"g":"m","x":18.9,"v":4870},{"g":"m","x":21,"v":4460},{"g":"f","x":10.7,"v":4230},{"g":"f","x":12.4,"v":4000},{"g":"f","x":13.9,"v":3340},{"g":"f","x":15.4,"v":4435},{"g":"f","x":17,"v":3690},{"g":"f","x":18.6,"v":4190},{"g":"f","x":19.6,"v":3450},{"g":"f","x":22.5,"v":3130}],
"C4f":[{"g":"m","x":10,"f":4230,"l":4130,"u":4340},{"g":"m","x":14,"f":4215,"l":4150,"u":4280},{"g":"m","x":18,"f":4200,"l":4140,"u":4260},{"g":"m","x":22.5,"f":4180,"l":4080,"u":4285},{"g":"m","x":27,"f":4150,"l":3990,"u":4320},{"g":"f","x":10,"f":3880,"l":3800,"u":3960},{"g":"f","x":14,"f":3820,"l":3770,"u":3870},{"g":"f","x":18,"f":3760,"l":3710,"u":3810},{"g":"f","x":22.5,"f":3690,"l":3620,"u":3760},{"g":"f","x":27,"f":3620,"l":3510,"u":3720}],
"I1p":[{"g":"m","x":10.6,"v":4.42},{"g":"m","x":11.5,"v":4.64},{"g":"m","x":12.3,"v":4.45},{"g":"m","x":13,"v":5.22},{"g":"m","x":13.4,"v":4.84},{"g":"m","x":13.9,"v":4.4},{"g":"m","x":14.4,"v":4.77},{"g":"m","x":15,"v":5.06},{"g":"m","x":15.5,"v":4.62},{"g":"m","x":16.1,"v":4.36},{"g":"m","x":16.8,"v":4.83},{"g":"m","x":17.5,"v":5.05},{"g":"m","x":18.3,"v":4.67},{"g":"m","x":19.2,"v":5.01},{"g":"m","x":20.3,"v":4.88},{"g":"m","x":22,"v":5.41},{"g":"f","x":10.3,"v":4.73},{"g":"f","x":11.2,"v":4.4},{"g":"f","x":12,"v":4.89},{"g":"f","x":12.8,"v":4.74},{"g":"f","x":13.6,"v":4.54},{"g":"f","x":14.3,"v":5.04},{"g":"f","x":15.1,"v":4.46},{"g":"f","x":15.8,"v":4.78},{"g":"f","x":16.6,"v":5.16},{"g":"f","x":17.4,"v":4.7},{"g":"f","x":18.2,"v":4.41},{"g":"f","x":19,"v":4.98},{"g":"f","x":20,"v":4.86},{"g":"f","x":21.2,"v":4.65},{"g":"f","x":23,"v":5.19},{"g":"f","x":25.8,"v":5.37},{"g":"m","x":11,"v":4.77},{"g":"m","x":12.7,"v":4.53},{"g":"m","x":14.1,"v":4.85},{"g":"m","x":14.8,"v":4.37},{"g":"m","x":16.4,"v":4.57},{"g":"m","x":17.9,"v":5.16},{"g":"m","x":18.9,"v":5.0},{"g":"m","x":21,"v":4.66},{"g":"f","x":10.7,"v":4.71},{"g":"f","x":12.4,"v":4.37},{"g":"f","x":13.9,"v":5.08},{"g":"f","x":15.4,"v":4.68},{"g":"f","x":17,"v":5.03},{"g":"f","x":18.6,"v":4.63},{"g":"f","x":19.6,"v":4.49},{"g":"f","x":22.5,"v":5.11}],
"I1f":[{"g":"m","x":10,"f":4.51,"l":4.45,"u":4.56},{"g":"m","x":13,"f":4.63,"l":4.59,"u":4.665},{"g":"m","x":16,"f":4.75,"l":4.73,"u":4.77},{"g":"m","x":20,"f":4.91,"l":4.875,"u":4.945},{"g":"m","x":23.5,"f":5.05,"l":4.99,"u":5.11},{"g":"m","x":27,"f":5.19,"l":5.1,"u":5.27},{"g":"f","x":10,"f":4.6,"l":4.545,"u":4.665},{"g":"f","x":13,"f":4.67,"l":4.63,"u":4.71},{"g":"f","x":16,"f":4.74,"l":4.715,"u":4.765},{"g":"f","x":20,"f":4.835,"l":4.8,"u":4.87},{"g":"f","x":23.5,"f":4.92,"l":4.86,"u":4.98},{"g":"f","x":27,"f":5.0,"l":4.91,"u":5.09}],
"I2p":[{"g":"m","x":10.6,"v":3.16},{"g":"m","x":11.5,"v":3.3},{"g":"m","x":12.3,"v":3.05},{"g":"m","x":13,"v":2.89},{"g":"m","x":13.4,"v":3.39},{"g":"m","x":13.9,"v":3.23},{"g":"m","x":14.4,"v":3.0},{"g":"m","x":15,"v":3.16},{"g":"m","x":15.5,"v":3.06},{"g":"m","x":16.1,"v":3.31},{"g":"m","x":16.8,"v":2.9},{"g":"m","x":17.5,"v":3.1},{"g":"m","x":18.3,"v":2.97},{"g":"m","x":19.2,"v":3.2},{"g":"m","x":20.3,"v":3.14},{"g":"m","x":22,"v":2.87},{"g":"f","x":10.3,"v":3.01},{"g":"f","x":11.2,"v":3.16},{"g":"f","x":12,"v":3.32},{"g":"f","x":12.8,"v":3.07},{"g":"f","x":13.6,"v":2.9},{"g":"f","x":14.3,"v":3.17},{"g":"f","x":15.1,"v":3.08},{"g":"f","x":15.8,"v":2.95},{"g":"f","x":16.6,"v":3.19},{"g":"f","x":17.4,"v":2.99},{"g":"f","x":18.2,"v":3.09},{"g":"f","x":19,"v":2.79},{"g":"f","x":20,"v":3.12},{"g":"f","x":21.2,"v":3.02},{"g":"f","x":23,"v":2.88},{"g":"f","x":25.8,"v":3.08},{"g":"m","x":11,"v":3.07},{"g":"m","x":12.7,"v":3.2},{"g":"m","x":14.1,"v":2.9},{"g":"m","x":14.8,"v":2.98},{"g":"m","x":16.4,"v":3.26},{"g":"m","x":17.9,"v":3.13},{"g":"m","x":18.9,"v":2.9},{"g":"m","x":21,"v":3.15},{"g":"f","x":10.7,"v":3.0},{"g":"f","x":12.4,"v":3.31},{"g":"f","x":13.9,"v":3.07},{"g":"f","x":15.4,"v":3.2},{"g":"f","x":17,"v":2.96},{"g":"f","x":18.6,"v":2.85},{"g":"f","x":19.6,"v":3.11},{"g":"f","x":22.5,"v":3.01}],
"I2f":[{"g":"m","x":10,"f":3.12,"l":3.09,"u":3.155},{"g":"m","x":15,"f":3.09,"l":3.075,"u":3.105},{"g":"m","x":20,"f":3.04,"l":3.02,"u":3.06},{"g":"m","x":23.5,"f":2.99,"l":2.96,"u":3.025},{"g":"m","x":27,"f":2.94,"l":2.89,"u":2.995},{"g":"f","x":10,"f":3.15,"l":3.11,"u":3.19},{"g":"f","x":14,"f":3.09,"l":3.07,"u":3.11},{"g":"f","x":18,"f":3.03,"l":3.017,"u":3.043},{"g":"f","x":22.5,"f":2.96,"l":2.94,"u":2.98},{"g":"f","x":27,"f":2.89,"l":2.855,"u":2.925}],
"I3p":[{"g":"m","x":10.6,"v":4.7},{"g":"m","x":11.5,"v":5.18},{"g":"m","x":12.3,"v":5.26},{"g":"m","x":13,"v":4.89},{"g":"m","x":13.4,"v":5.22},{"g":"m","x":13.9,"v":5.01},{"g":"m","x":14.4,"v":5.27},{"g":"m","x":15,"v":4.68},{"g":"m","x":15.5,"v":5.09},{"g":"m","x":16.1,"v":4.82},{"g":"m","x":16.8,"v":5.25},{"g":"m","x":17.5,"v":5.18},{"g":"m","x":18.3,"v":4.64},{"g":"m","x":19.2,"v":5.01},{"g":"m","x":20.3,"v":5.25},{"g":"m","x":22,"v":4.71},{"g":"f","x":10.3,"v":5.0},{"g":"f","x":11.2,"v":4.57},{"g":"f","x":12,"v":5.16},{"g":"f","x":12.8,"v":4.94},{"g":"f","x":13.6,"v":4.6},{"g":"f","x":14.3,"v":5.14},{"g":"f","x":15.1,"v":4.63},{"g":"f","x":15.8,"v":4.83},{"g":"f","x":16.6,"v":4.3},{"g":"f","x":17.4,"v":4.86},{"g":"f","x":18.2,"v":4.62},{"g":"f","x":19,"v":4.36},{"g":"f","x":20,"v":4.92},{"g":"f","x":21.2,"v":4.31},{"g":"f","x":23,"v":4.68},{"g":"f","x":25.8,"v":4.92},{"g":"m","x":11,"v":5.27},{"g":"m","x":12.7,"v":4.69},{"g":"m","x":14.1,"v":4.83},{"g":"m","x":14.8,"v":5.26},{"g":"m","x":16.4,"v":5.14},{"g":"m","x":17.9,"v":4.62},{"g":"m","x":18.9,"v":5.17},{"g":"m","x":21,"v":4.76},{"g":"f","x":10.7,"v":5.27},{"g":"f","x":12.4,"v":4.88},{"g":"f","x":13.9,"v":5.14},{"g":"f","x":15.4,"v":4.52},{"g":"f","x":17,"v":4.3},{"g":"f","x":18.6,"v":4.78},{"g":"f","x":19.6,"v":4.64},{"g":"f","x":22.5,"v":4.3}],
"I3f":[{"g":"m","x":10,"f":5.17,"l":5.12,"u":5.23},{"g":"m","x":14,"f":5.057,"l":5.03,"u":5.085},{"g":"m","x":18,"f":4.945,"l":4.915,"u":4.975},{"g":"m","x":22.5,"f":4.817,"l":4.77,"u":4.865},{"g":"m","x":27,"f":4.69,"l":4.6,"u":4.79},{"g":"f","x":10,"f":5.1,"l":4.98,"u":5.21},{"g":"f","x":11.5,"f":5.0,"l":4.91,"u":5.09},{"g":"f","x":13,"f":4.9,"l":4.83,"u":4.97},{"g":"f","x":15,"f":4.75,"l":4.69,"u":4.81},{"g":"f","x":17,"f":4.6,"l":4.55,"u":4.65},{"g":"f","x":18.5,"f":4.525,"l":4.475,"u":4.575},{"g":"f","x":20,"f":4.53,"l":4.48,"u":4.58},{"g":"f","x":21.5,"f":4.6,"l":4.54,"u":4.66},{"g":"f","x":22.5,"f":4.64,"l":4.57,"u":4.71},{"g":"f","x":24,"f":4.61,"l":4.53,"u":4.7},{"g":"f","x":25.5,"f":4.52,"l":4.39,"u":4.64},{"g":"f","x":27,"f":4.42,"l":4.22,"u":4.58}],
"I4p":[{"g":"m","x":10.6,"v":2160},{"g":"m","x":11.5,"v":2490},{"g":"m","x":12.3,"v":2340},{"g":"m","x":13,"v":2720},{"g":"m","x":13.4,"v":2100},{"g":"m","x":13.9,"v":2480},{"g":"m","x":14.4,"v":2267},{"g":"m","x":15,"v":2716},{"g":"m","x":15.5,"v":2810},{"g":"m","x":16.1,"v":2172},{"g":"m","x":16.8,"v":2527},{"g":"m","x":17.5,"v":2680},{"g":"m","x":18.3,"v":2325},{"g":"m","x":19.2,"v":2034},{"g":"m","x":20.3,"v":2467},{"g":"m","x":22,"v":2652},{"g":"f","x":10.3,"v":2151},{"g":"f","x":11.2,"v":1952},{"g":"f","x":12,"v":2374},{"g":"f","x":12.8,"v":2056},{"g":"f","x":13.6,"v":2237},{"g":"f","x":14.3,"v":1800},{"g":"f","x":15.1,"v":2340},{"g":"f","x":15.8,"v":2202},{"g":"f","x":16.6,"v":2024},{"g":"f","x":17.4,"v":2425},{"g":"f","x":18.2,"v":1920},{"g":"f","x":19,"v":2180},{"g":"f","x":20,"v":2740},{"g":"f","x":21.2,"v":2094},{"g":"f","x":23,"v":1843},{"g":"f","x":25.8,"v":2302},{"g":"m","x":11,"v":1995},{"g":"m","x":12.7,"v":2194},{"g":"m","x":14.1,"v":2747},{"g":"m","x":14.8,"v":2559},{"g":"m","x":16.4,"v":2151},{"g":"m","x":17.9,"v":2656},{"g":"m","x":18.9,"v":2342},{"g":"m","x":21,"v":2594},{"g":"f","x":10.7,"v":2091},{"g":"f","x":12.4,"v":2355},{"g":"f","x":13.9,"v":1998},{"g":"f","x":15.4,"v":1861},{"g":"f","x":17,"v":2324},{"g":"f","x":18.6,"v":2228},{"g":"f","x":19.6,"v":1910},{"g":"f","x":22.5,"v":2476}],
"I4f":[{"g":"m","x":10,"f":2320,"l":2240,"u":2390},{"g":"m","x":13,"f":2400,"l":2350,"u":2450},{"g":"m","x":15,"f":2430,"l":2395,"u":2465},{"g":"m","x":17,"f":2440,"l":2410,"u":2470},{"g":"m","x":20,"f":2425,"l":2385,"u":2470},{"g":"m","x":24,"f":2395,"l":2310,"u":2480},{"g":"m","x":27,"f":2370,"l":2240,"u":2500},{"g":"f","x":10,"f":2130,"l":2090,"u":2170},{"g":"f","x":14,"f":2138,"l":2110,"u":2166},{"g":"f","x":18,"f":2147,"l":2125,"u":2170},{"g":"f","x":22.5,"f":2156,"l":2120,"u":2195},{"g":"f","x":27,"f":2165,"l":2110,"u":2220}]
},
"vconcat":[
{"title":{"text":"Frontal","orient":"left","anchor":"middle","fontSize":15,"offset":2},"spacing":12,"hconcat":[
{"width":142,"height":146,"title":{"text":"Intrinsic curvature","anchor":"middle","frame":"group"},"layer":[{"data":{"name":"F1p"},"mark":"point"},{"data":{"name":"F1f"},"transform":[{"fold":["f"],"as":["k","v"]}],"mark":"line"},{"data":{"name":"F1f"},"transform":[{"fold":["l","u"],"as":["k","v"]}],"mark":{"type":"line","strokeDash":[5,3],"clip":true},"encoding":{"detail":{"field":"k"}}}],"encoding":{"x":{"field":"x","type":"quantitative","scale":{"domain":[9.26,27.38],"nice":false,"zero":false},"axis":{"values":[10,15,20,25],"title":null}},"y":{"field":"v","type":"quantitative","scale":{"domain":[4.655,5.735],"nice":false,"zero":false},"axis":{"values":[4.8,5,5.2,5.4,5.6],"format":".1f","title":"IC skew"}},"color":{"field":"g","type":"nominal","sort":"descending","legend":{"title":null,"labelExpr":"datum.label=='m'?'male':'female'"}}}},
{"width":145,"height":146,"title":{"text":"Cortical thickness","anchor":"middle","frame":"group"},"layer":[{"data":{"name":"F2p"},"mark":"point"},{"data":{"name":"F2f"},"transform":[{"fold":["f"],"as":["k","v"]}],"mark":"line"},{"data":{"name":"F2f"},"transform":[{"fold":["l","u"],"as":["k","v"]}],"mark":{"type":"line","strokeDash":[5,3],"clip":true},"encoding":{"detail":{"field":"k"}}}],"encoding":{"x":{"field":"x","type":"quantitative","scale":{"domain":[9.26,27.38],"nice":false,"zero":false},"axis":{"values":[10,15,20,25],"title":null}},"y":{"field":"v","type":"quantitative","scale":{"domain":[2.264,3.026],"nice":false,"zero":false},"axis":{"values":[2.3,2.4,2.5,2.6,2.7,2.8,2.9,3.0],"format":".1f","title":"CT (mm)"}},"color":{"field":"g","type":"nominal","sort":"descending","legend":{"title":null,"labelExpr":"datum.label=='m'?'male':'female'"}}}},
{"width":144,"height":146,"title":{"text":"Local gyrification index","anchor":"middle","frame":"group"},"layer":[{"data":{"name":"F3p"},"mark":"point"},{"data":{"name":"F3f"},"transform":[{"fold":["f"],"as":["k","v"]}],"mark":"line"},{"data":{"name":"F3f"},"transform":[{"fold":["l","u"],"as":["k","v"]}],"mark":{"type":"line","strokeDash":[5,3],"clip":true},"encoding":{"detail":{"field":"k"}}}],"encoding":{"x":{"field":"x","type":"quantitative","scale":{"domain":[9.26,27.38],"nice":false,"zero":false},"axis":{"values":[10,15,20,25],"title":null}},"y":{"field":"v","type":"quantitative","scale":{"domain":[2.455,3.54],"nice":false,"zero":false},"axis":{"values":[2.6,2.8,3.0,3.2,3.4],"format":".1f","title":"LGI"}},"color":{"field":"g","type":"nominal","sort":"descending","legend":{"title":null,"labelExpr":"datum.label=='m'?'male':'female'"}}}},
{"width":144,"height":146,"title":{"text":"Surface area","anchor":"middle","frame":"group"},"layer":[{"data":{"name":"F4p"},"mark":"point"},{"data":{"name":"F4f"},"transform":[{"fold":["f"],"as":["k","v"]}],"mark":"line"},{"data":{"name":"F4f"},"transform":[{"fold":["l","u"],"as":["k","v"]}],"mark":{"type":"line","strokeDash":[5,3],"clip":true},"encoding":{"detail":{"field":"k"}}}],"encoding":{"x":{"field":"x","type":"quantitative","scale":{"domain":[9.26,27.38],"nice":false,"zero":false},"axis":{"values":[10,15,20,25],"title":null}},"y":{"field":"v","type":"quantitative","scale":{"domain":[25462,40363],"nice":false,"zero":false},"axis":{"values":[26000,30000,34000,38000],"format":"d","title":"SA (mm²)"}},"color":{"field":"g","type":"nominal","sort":"descending","legend":{"title":null,"labelExpr":"datum.label=='m'?'male':'female'"}}}}
]},
{"title":{"text":"Parietal","orient":"left","anchor":"middle","fontSize":15,"offset":2},"spacing":12,"hconcat":[
{"width":142,"height":146,"layer":[{"data":{"name":"P1p"},"mark":"point"},{"data":{"name":"P1f"},"transform":[{"fold":["f"],"as":["k","v"]}],"mark":"line"},{"data":{"name":"P1f"},"transform":[{"fold":["l","u"],"as":["k","v"]}],"mark":{"type":"line","strokeDash":[5,3],"clip":true},"encoding":{"detail":{"field":"k"}}}],"encoding":{"x":{"field":"x","type":"quantitative","scale":{"domain":[9.26,27.38],"nice":false,"zero":false},"axis":{"values":[10,15,20,25],"title":null}},"y":{"field":"v","type":"quantitative","scale":{"domain":[4.875,5.93],"nice":false,"zero":false},"axis":{"values":[5.0,5.2,5.4,5.6,5.8],"format":".1f","title":"IC skew"}},"color":{"field":"g","type":"nominal","sort":"descending","legend":{"title":null,"labelExpr":"datum.label=='m'?'male':'female'"}}}},
{"width":145,"height":146,"layer":[{"data":{"name":"P2p"},"mark":"point"},{"data":{"name":"P2f"},"transform":[{"fold":["f"],"as":["k","v"]}],"mark":"line"},{"data":{"name":"P2f"},"transform":[{"fold":["l","u"],"as":["k","v"]}],"mark":{"type":"line","strokeDash":[5,3],"clip":true},"encoding":{"detail":{"field":"k"}}}],"encoding":{"x":{"field":"x","type":"quantitative","scale":{"domain":[9.26,27.38],"nice":false,"zero":false},"axis":{"values":[10,15,20,25],"title":null}},"y":{"field":"v","type":"quantitative","scale":{"domain":[1.976,2.717],"nice":false,"zero":false},"axis":{"values":[2.0,2.1,2.2,2.3,2.4,2.5,2.6,2.7],"format":".1f","title":"CT (mm)"}},"color":{"field":"g","type":"nominal","sort":"descending","legend":{"title":null,"labelExpr":"datum.label=='m'?'male':'female'"}}}},
{"width":144,"height":146,"layer":[{"data":{"name":"P3p"},"mark":"point"},{"data":{"name":"P3f"},"transform":[{"fold":["f"],"as":["k","v"]}],"mark":"line"},{"data":{"name":"P3f"},"transform":[{"fold":["l","u"],"as":["k","v"]}],"mark":{"type":"line","strokeDash":[5,3],"clip":true},"encoding":{"detail":{"field":"k"}}}],"encoding":{"x":{"field":"x","type":"quantitative","scale":{"domain":[9.26,27.38],"nice":false,"zero":false},"axis":{"values":[10,15,20,25],"title":null}},"y":{"field":"v","type":"quantitative","scale":{"domain":[2.855,3.97],"nice":false,"zero":false},"axis":{"values":[3.0,3.2,3.4,3.6,3.8],"format":".1f","title":"LGI"}},"color":{"field":"g","type":"nominal","sort":"descending","legend":{"title":null,"labelExpr":"datum.label=='m'?'male':'female'"}}}},
{"width":144,"height":146,"layer":[{"data":{"name":"P4p"},"mark":"point"},{"data":{"name":"P4f"},"transform":[{"fold":["f"],"as":["k","v"]}],"mark":"line"},{"data":{"name":"P4f"},"transform":[{"fold":["l","u"],"as":["k","v"]}],"mark":{"type":"line","strokeDash":[5,3],"clip":true},"encoding":{"detail":{"field":"k"}}}],"encoding":{"x":{"field":"x","type":"quantitative","scale":{"domain":[9.26,27.38],"nice":false,"zero":false},"axis":{"values":[10,15,20,25],"title":null}},"y":{"field":"v","type":"quantitative","scale":{"domain":[18982,29624],"nice":false,"zero":false},"axis":{"values":[20000,22000,24000,26000,28000],"format":"d","title":"SA (mm²)"}},"color":{"field":"g","type":"nominal","sort":"descending","legend":{"title":null,"labelExpr":"datum.label=='m'?'male':'female'"}}}}
]},
{"title":{"text":"Temporal","orient":"left","anchor":"middle","fontSize":15,"offset":2},"spacing":12,"hconcat":[
{"width":142,"height":146,"layer":[{"data":{"name":"T1p"},"mark":"point"},{"data":{"name":"T1f"},"transform":[{"fold":["f"],"as":["k","v"]}],"mark":"line"},{"data":{"name":"T1f"},"transform":[{"fold":["l","u"],"as":["k","v"]}],"mark":{"type":"line","strokeDash":[5,3],"clip":true},"encoding":{"detail":{"field":"k"}}}],"encoding":{"x":{"field":"x","type":"quantitative","scale":{"domain":[9.26,27.38],"nice":false,"zero":false},"axis":{"values":[10,15,20,25],"title":null}},"y":{"field":"v","type":"quantitative","scale":{"domain":[4.762,5.876],"nice":false,"zero":false},"axis":{"values":[4.8,5.0,5.2,5.4,5.6,5.8],"format":".1f","title":"IC skew"}},"color":{"field":"g","type":"nominal","sort":"descending","legend":{"title":null,"labelExpr":"datum.label=='m'?'male':'female'"}}}},
{"width":145,"height":146,"layer":[{"data":{"name":"T2p"},"mark":"point"},{"data":{"name":"T2f"},"transform":[{"fold":["f"],"as":["k","v"]}],"mark":"line"},{"data":{"name":"T2f"},"transform":[{"fold":["l","u"],"as":["k","v"]}],"mark":{"type":"line","strokeDash":[5,3],"clip":true},"encoding":{"detail":{"field":"k"}}}],"encoding":{"x":{"field":"x","type":"quantitative","scale":{"domain":[9.26,27.38],"nice":false,"zero":false},"axis":{"values":[10,15,20,25],"title":null}},"y":{"field":"v","type":"quantitative","scale":{"domain":[2.475,3.217],"nice":false,"zero":false},"axis":{"values":[2.5,2.6,2.7,2.8,2.9,3.0,3.1,3.2],"format":".1f","title":"CT (mm)"}},"color":{"field":"g","type":"nominal","sort":"descending","legend":{"title":null,"labelExpr":"datum.label=='m'?'male':'female'"}}}},
{"width":144,"height":146,"layer":[{"data":{"name":"T3p"},"mark":"point"},{"data":{"name":"T3f"},"transform":[{"fold":["f"],"as":["k","v"]}],"mark":"line"},{"data":{"name":"T3f"},"transform":[{"fold":["l","u"],"as":["k","v"]}],"mark":{"type":"line","strokeDash":[5,3],"clip":true},"encoding":{"detail":{"field":"k"}}}],"encoding":{"x":{"field":"x","type":"quantitative","scale":{"domain":[9.26,27.38],"nice":false,"zero":false},"axis":{"values":[10,15,20,25],"title":null}},"y":{"field":"v","type":"quantitative","scale":{"domain":[2.855,3.97],"nice":false,"zero":false},"axis":{"values":[3.0,3.2,3.4,3.6,3.8],"format":".1f","title":"LGI"}},"color":{"field":"g","type":"nominal","sort":"descending","legend":{"title":null,"labelExpr":"datum.label=='m'?'male':'female'"}}}},
{"width":144,"height":146,"layer":[{"data":{"name":"T4p"},"mark":"point"},{"data":{"name":"T4f"},"transform":[{"fold":["f"],"as":["k","v"]}],"mark":"line"},{"data":{"name":"T4f"},"transform":[{"fold":["l","u"],"as":["k","v"]}],"mark":{"type":"line","strokeDash":[5,3],"clip":true},"encoding":{"detail":{"field":"k"}}}],"encoding":{"x":{"field":"x","type":"quantitative","scale":{"domain":[9.26,27.38],"nice":false,"zero":false},"axis":{"values":[10,15,20,25],"title":null}},"y":{"field":"v","type":"quantitative","scale":{"domain":[13067,22822],"nice":false,"zero":false},"axis":{"values":[14000,16000,18000,20000,22000],"format":"d","title":"SA (mm²)"}},"color":{"field":"g","type":"nominal","sort":"descending","legend":{"title":null,"labelExpr":"datum.label=='m'?'male':'female'"}}}}
]},
{"title":{"text":"Occipital","orient":"left","anchor":"middle","fontSize":15,"offset":2},"spacing":12,"hconcat":[
{"width":142,"height":146,"layer":[{"data":{"name":"O1p"},"mark":"point"},{"data":{"name":"O1f"},"transform":[{"fold":["f"],"as":["k","v"]}],"mark":"line"},{"data":{"name":"O1f"},"transform":[{"fold":["l","u"],"as":["k","v"]}],"mark":{"type":"line","strokeDash":[5,3],"clip":true},"encoding":{"detail":{"field":"k"}}}],"encoding":{"x":{"field":"x","type":"quantitative","scale":{"domain":[9.26,27.38],"nice":false,"zero":false},"axis":{"values":[10,15,20,25],"title":null}},"y":{"field":"v","type":"quantitative","scale":{"domain":[4.672,5.755],"nice":false,"zero":false},"axis":{"values":[4.8,5.0,5.2,5.4,5.6],"format":".1f","title":"IC skew"}},"color":{"field":"g","type":"nominal","sort":"descending","legend":{"title":null,"labelExpr":"datum.label=='m'?'male':'female'"}}}},
{"width":145,"height":146,"layer":[{"data":{"name":"O2p"},"mark":"point"},{"data":{"name":"O2f"},"transform":[{"fold":["f"],"as":["k","v"]}],"mark":"line"},{"data":{"name":"O2f"},"transform":[{"fold":["l","u"],"as":["k","v"]}],"mark":{"type":"line","strokeDash":[5,3],"clip":true},"encoding":{"detail":{"field":"k"}}}],"encoding":{"x":{"field":"x","type":"quantitative","scale":{"domain":[9.26,27.38],"nice":false,"zero":false},"axis":{"values":[10,15,20,25],"title":null}},"y":{"field":"v","type":"quantitative","scale":{"domain":[1.58,2.331],"nice":false,"zero":false},"axis":{"values":[1.6,1.7,1.8,1.9,2.0,2.1,2.2,2.3],"format":".1f","title":"CT (mm)"}},"color":{"field":"g","type":"nominal","sort":"descending","legend":{"title":null,"labelExpr":"datum.label=='m'?'male':'female'"}}}},
{"width":144,"height":146,"layer":[{"data":{"name":"O3p"},"mark":"point"},{"data":{"name":"O3f"},"transform":[{"fold":["f"],"as":["k","v"]}],"mark":"line"},{"data":{"name":"O3f"},"transform":[{"fold":["l","u"],"as":["k","v"]}],"mark":{"type":"line","strokeDash":[5,3],"clip":true},"encoding":{"detail":{"field":"k"}}}],"encoding":{"x":{"field":"x","type":"quantitative","scale":{"domain":[9.26,27.38],"nice":false,"zero":false},"axis":{"values":[10,15,20,25],"title":null}},"y":{"field":"v","type":"quantitative","scale":{"domain":[2.272,3.355],"nice":false,"zero":false},"axis":{"values":[2.4,2.6,2.8,3.0,3.2],"format":".1f","title":"LGI"}},"color":{"field":"g","type":"nominal","sort":"descending","legend":{"title":null,"labelExpr":"datum.label=='m'?'male':'female'"}}}},
{"width":144,"height":146,"layer":[{"data":{"name":"O4p"},"mark":"point"},{"data":{"name":"O4f"},"transform":[{"fold":["f"],"as":["k","v"]}],"mark":"line"},{"data":{"name":"O4f"},"transform":[{"fold":["l","u"],"as":["k","v"]}],"mark":{"type":"line","strokeDash":[5,3],"clip":true},"encoding":{"detail":{"field":"k"}}}],"encoding":{"x":{"field":"x","type":"quantitative","scale":{"domain":[9.26,27.38],"nice":false,"zero":false},"axis":{"values":[10,15,20,25],"title":null}},"y":{"field":"v","type":"quantitative","scale":{"domain":[8829,15085],"nice":false,"zero":false},"axis":{"values":[9000,11000,13000,15000],"format":"d","title":"SA (mm²)"}},"color":{"field":"g","type":"nominal","sort":"descending","legend":{"title":null,"labelExpr":"datum.label=='m'?'male':'female'"}}}}
]},
{"title":{"text":"Cingulate","orient":"left","anchor":"middle","fontSize":15,"offset":2},"spacing":12,"hconcat":[
{"width":142,"height":146,"layer":[{"data":{"name":"C1p"},"mark":"point"},{"data":{"name":"C1f"},"transform":[{"fold":["f"],"as":["k","v"]}],"mark":"line"},{"data":{"name":"C1f"},"transform":[{"fold":["l","u"],"as":["k","v"]}],"mark":{"type":"line","strokeDash":[5,3],"clip":true},"encoding":{"detail":{"field":"k"}}}],"encoding":{"x":{"field":"x","type":"quantitative","scale":{"domain":[9.26,27.38],"nice":false,"zero":false},"axis":{"values":[10,15,20,25],"title":null}},"y":{"field":"v","type":"quantitative","scale":{"domain":[4.069,5.143],"nice":false,"zero":false},"axis":{"values":[4.2,4.4,4.6,4.8,5.0],"format":".1f","title":"IC skew"}},"color":{"field":"g","type":"nominal","sort":"descending","legend":{"title":null,"labelExpr":"datum.label=='m'?'male':'female'"}}}},
{"width":145,"height":146,"layer":[{"data":{"name":"C2p"},"mark":"point"},{"data":{"name":"C2f"},"transform":[{"fold":["f"],"as":["k","v"]}],"mark":"line"},{"data":{"name":"C2f"},"transform":[{"fold":["l","u"],"as":["k","v"]}],"mark":{"type":"line","strokeDash":[5,3],"clip":true},"encoding":{"detail":{"field":"k"}}}],"encoding":{"x":{"field":"x","type":"quantitative","scale":{"domain":[9.26,27.38],"nice":false,"zero":false},"axis":{"values":[10,15,20,25],"title":null}},"y":{"field":"v","type":"quantitative","scale":{"domain":[2.175,2.822],"nice":false,"zero":false},"axis":{"values":[2.2,2.3,2.4,2.5,2.6,2.7,2.8],"format":".1f","title":"CT (mm)"}},"color":{"field":"g","type":"nominal","sort":"descending","legend":{"title":null,"labelExpr":"datum.label=='m'?'male':'female'"}}}},
{"width":144,"height":146,"layer":[{"data":{"name":"C3p"},"mark":"point"},{"data":{"name":"C3f"},"transform":[{"fold":["f"],"as":["k","v"]}],"mark":"line"},{"data":{"name":"C3f"},"transform":[{"fold":["l","u"],"as":["k","v"]}],"mark":{"type":"line","strokeDash":[5,3],"clip":true},"encoding":{"detail":{"field":"k"}}}],"encoding":{"x":{"field":"x","type":"quantitative","scale":{"domain":[9.26,27.38],"nice":false,"zero":false},"axis":{"values":[10,15,20,25],"title":null}},"y":{"field":"v","type":"quantitative","scale":{"domain":[1.758,2.837],"nice":false,"zero":false},"axis":{"values":[1.8,2.0,2.2,2.4,2.6,2.8],"format":".1f","title":"LGI"}},"color":{"field":"g","type":"nominal","sort":"descending","legend":{"title":null,"labelExpr":"datum.label=='m'?'male':'female'"}}}},
{"width":144,"height":146,"layer":[{"data":{"name":"C4p"},"mark":"point"},{"data":{"name":"C4f"},"transform":[{"fold":["f"],"as":["k","v"]}],"mark":"line"},{"data":{"name":"C4f"},"transform":[{"fold":["l","u"],"as":["k","v"]}],"mark":{"type":"line","strokeDash":[5,3],"clip":true},"encoding":{"detail":{"field":"k"}}}],"encoding":{"x":{"field":"x","type":"quantitative","scale":{"domain":[9.26,27.38],"nice":false,"zero":false},"axis":{"values":[10,15,20,25],"title":null}},"y":{"field":"v","type":"quantitative","scale":{"domain":[2873,5076],"nice":false,"zero":false},"axis":{"values":[3000,3500,4000,4500,5000],"format":"d","title":"SA (mm²)"}},"color":{"field":"g","type":"nominal","sort":"descending","legend":{"title":null,"labelExpr":"datum.label=='m'?'male':'female'"}}}}
]},
{"title":{"text":"Insula","orient":"left","anchor":"middle","fontSize":15,"offset":2},"spacing":12,"hconcat":[
{"width":142,"height":146,"layer":[{"data":{"name":"I1p"},"mark":"point"},{"data":{"name":"I1f"},"transform":[{"fold":["f"],"as":["k","v"]}],"mark":"line"},{"data":{"name":"I1f"},"transform":[{"fold":["l","u"],"as":["k","v"]}],"mark":{"type":"line","strokeDash":[5,3],"clip":true},"encoding":{"detail":{"field":"k"}}}],"encoding":{"x":{"field":"x","type":"quantitative","scale":{"domain":[9.26,27.38],"nice":false,"zero":false},"axis":{"values":[10,15,20,25],"title":"age (years)"}},"y":{"field":"v","type":"quantitative","scale":{"domain":[4.352,5.438],"nice":false,"zero":false},"axis":{"values":[4.4,4.6,4.8,5.0,5.2,5.4],"format":".1f","title":"IC skew"}},"color":{"field":"g","type":"nominal","sort":"descending","legend":{"title":null,"labelExpr":"datum.label=='m'?'male':'female'"}}}},
{"width":145,"height":146,"layer":[{"data":{"name":"I2p"},"mark":"point"},{"data":{"name":"I2f"},"transform":[{"fold":["f"],"as":["k","v"]}],"mark":"line"},{"data":{"name":"I2f"},"transform":[{"fold":["l","u"],"as":["k","v"]}],"mark":{"type":"line","strokeDash":[5,3],"clip":true},"encoding":{"detail":{"field":"k"}}}],"encoding":{"x":{"field":"x","type":"quantitative","scale":{"domain":[9.26,27.38],"nice":false,"zero":false},"axis":{"values":[10,15,20,25],"title":"age (years)"}},"y":{"field":"v","type":"quantitative","scale":{"domain":[2.666,3.427],"nice":false,"zero":false},"axis":{"values":[2.7,2.8,2.9,3.0,3.1,3.2,3.3,3.4],"format":".1f","title":"CT (mm)"}},"color":{"field":"g","type":"nominal","sort":"descending","legend":{"title":null,"labelExpr":"datum.label=='m'?'male':'female'"}}}},
{"width":144,"height":146,"layer":[{"data":{"name":"I3p"},"mark":"point"},{"data":{"name":"I3f"},"transform":[{"fold":["f"],"as":["k","v"]}],"mark":"line"},{"data":{"name":"I3f"},"transform":[{"fold":["l","u"],"as":["k","v"]}],"mark":{"type":"line","strokeDash":[5,3],"clip":true},"encoding":{"detail":{"field":"k"}}}],"encoding":{"x":{"field":"x","type":"quantitative","scale":{"domain":[9.26,27.38],"nice":false,"zero":false},"axis":{"values":[10,15,20,25],"title":"age (years)"}},"y":{"field":"v","type":"quantitative","scale":{"domain":[4.286,5.281],"nice":false,"zero":false},"axis":{"values":[4.4,4.6,4.8,5.0,5.2],"format":".1f","title":"LGI"}},"color":{"field":"g","type":"nominal","sort":"descending","legend":{"title":null,"labelExpr":"datum.label=='m'?'male':'female'"}}}},
{"width":144,"height":146,"layer":[{"data":{"name":"I4p"},"mark":"point"},{"data":{"name":"I4f"},"transform":[{"fold":["f"],"as":["k","v"]}],"mark":"line"},{"data":{"name":"I4f"},"transform":[{"fold":["l","u"],"as":["k","v"]}],"mark":{"type":"line","strokeDash":[5,3],"clip":true},"encoding":{"detail":{"field":"k"}}}],"encoding":{"x":{"field":"x","type":"quantitative","scale":{"domain":[9.26,27.38],"nice":false,"zero":false},"axis":{"values":[10,15,20,25],"title":"age (years)"}},"y":{"field":"v","type":"quantitative","scale":{"domain":[1752,2838],"nice":false,"zero":false},"axis":{"values":[1800,2000,2200,2400,2600,2800],"format":"d","title":"SA (mm²)"}},"color":{"field":"g","type":"nominal","sort":"descending","legend":{"title":null,"labelExpr":"datum.label=='m'?'male':'female'"}}}}
]}
],
"config":{
"font":"Liberation Sans",
"view":{"stroke":"#333","strokeWidth":1},
"range":{"category":["#000000","#a6a6a6"]},
"point":{"filled":true,"size":5,"opacity":1},
"line":{"strokeWidth":1.3,"interpolate":"monotone"},
"axis":{"grid":false,"domain":false,"labelFont":"Liberation Sans","labelFontSize":7,"labelColor":"#444","tickColor":"#444","tickSize":2,"titleFont":"Liberation Sans","titleFontSize":9,"titleFontWeight":"normal","titleColor":"#222"},
"axisX":{"labelPadding":2,"tickSize":3,"titleFontSize":10,"titlePadding":1},
"axisY":{"labelAngle":-90,"labelAlign":"center","labelBaseline":"bottom","labelPadding":1,"titlePadding":1},
"title":{"font":"Open Sans","fontSize":13.5,"fontWeight":"bold","color":"#000","offset":4},
"legend":{"orient":"none","legendX":640,"legendY":-4,"symbolType":"stroke","labelFontSize":6,"labelColor":"#333","symbolSize":120,"symbolStrokeWidth":1.5,"rowPadding":0,"padding":3,"strokeColor":"#000","fillColor":"white"}
}
}
